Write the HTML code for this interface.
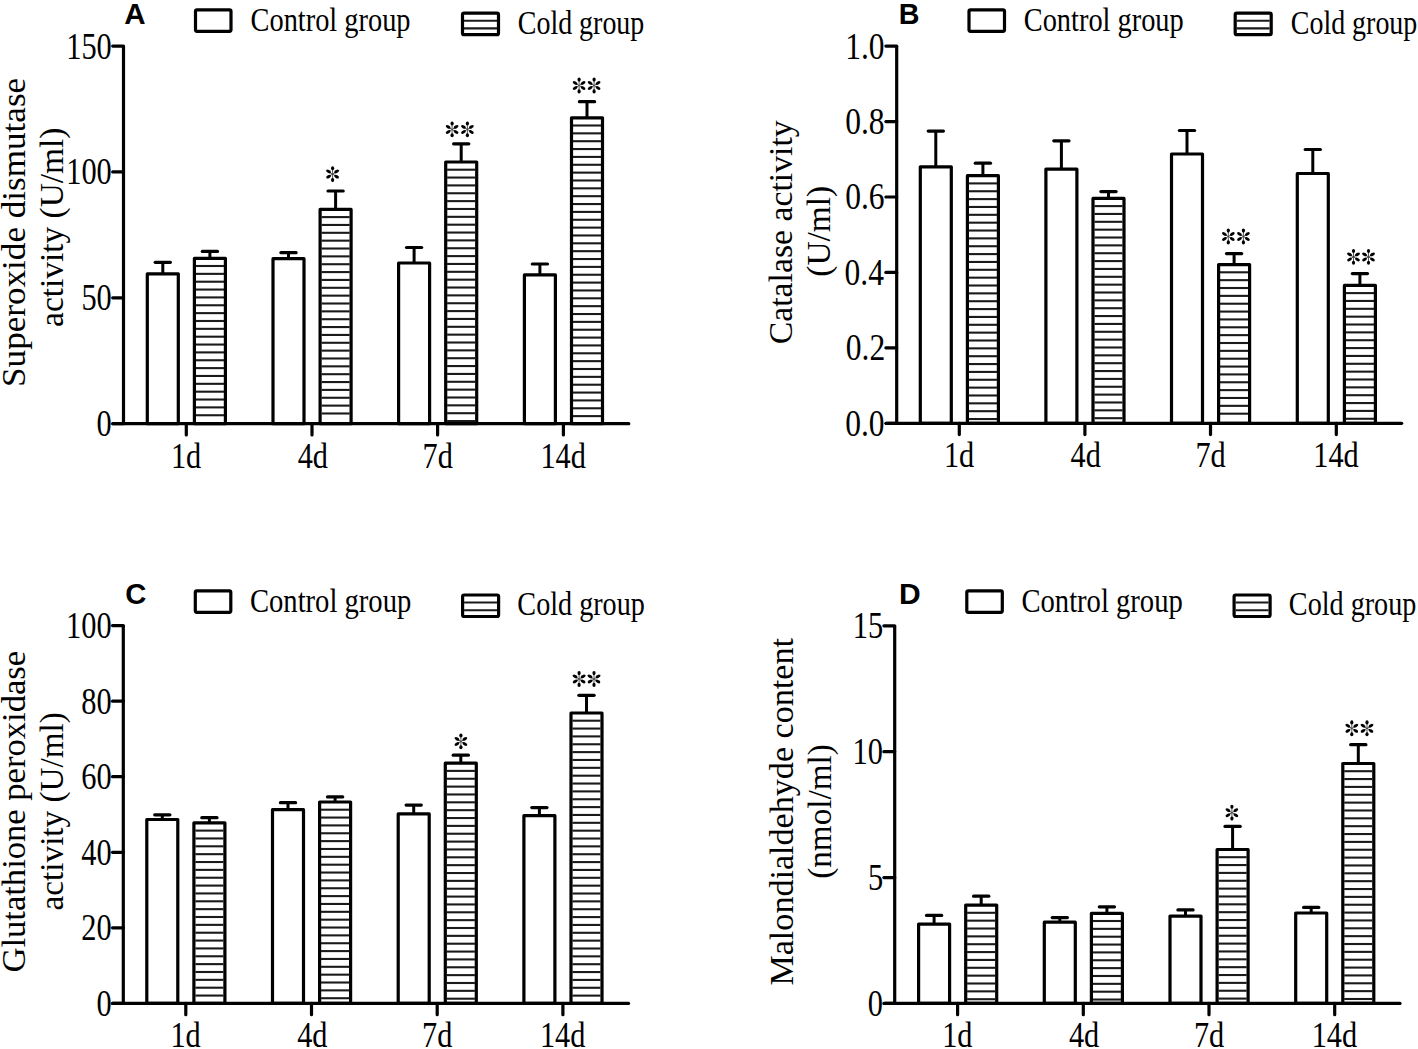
<!DOCTYPE html>
<html><head><meta charset="utf-8"><style>
html,body{margin:0;padding:0;background:#fff;}
body{width:1418px;height:1049px;overflow:hidden;}
svg{display:block;}
text{fill:#000;}
</style></head><body>
<svg width="1418" height="1049" viewBox="0 0 1418 1049">
<rect width="1418" height="1049" fill="#fff"/>
<rect x="147.30" y="273.80" width="31.0" height="149.90" fill="#fff" stroke="#000" stroke-width="3.2" stroke-linejoin="round"/>
<line x1="162.80" y1="273.80" x2="162.80" y2="262.30" stroke="#000" stroke-width="3.0" stroke-linecap="butt"/>
<line x1="155.20" y1="262.30" x2="170.40" y2="262.30" stroke="#000" stroke-width="3.2" stroke-linecap="round"/>
<rect x="194.40" y="258.30" width="31.0" height="165.40" fill="#fff" stroke="#000" stroke-width="3.2" stroke-linejoin="round"/>
<line x1="195.80" y1="266.00" x2="224.00" y2="266.00" stroke="#1a1a1a" stroke-width="2.1" stroke-linecap="butt"/>
<line x1="195.80" y1="273.86" x2="224.00" y2="273.86" stroke="#1a1a1a" stroke-width="2.1" stroke-linecap="butt"/>
<line x1="195.80" y1="281.71" x2="224.00" y2="281.71" stroke="#1a1a1a" stroke-width="2.1" stroke-linecap="butt"/>
<line x1="195.80" y1="289.56" x2="224.00" y2="289.56" stroke="#1a1a1a" stroke-width="2.1" stroke-linecap="butt"/>
<line x1="195.80" y1="297.42" x2="224.00" y2="297.42" stroke="#1a1a1a" stroke-width="2.1" stroke-linecap="butt"/>
<line x1="195.80" y1="305.27" x2="224.00" y2="305.27" stroke="#1a1a1a" stroke-width="2.1" stroke-linecap="butt"/>
<line x1="195.80" y1="313.13" x2="224.00" y2="313.13" stroke="#1a1a1a" stroke-width="2.1" stroke-linecap="butt"/>
<line x1="195.80" y1="320.99" x2="224.00" y2="320.99" stroke="#1a1a1a" stroke-width="2.1" stroke-linecap="butt"/>
<line x1="195.80" y1="328.84" x2="224.00" y2="328.84" stroke="#1a1a1a" stroke-width="2.1" stroke-linecap="butt"/>
<line x1="195.80" y1="336.69" x2="224.00" y2="336.69" stroke="#1a1a1a" stroke-width="2.1" stroke-linecap="butt"/>
<line x1="195.80" y1="344.55" x2="224.00" y2="344.55" stroke="#1a1a1a" stroke-width="2.1" stroke-linecap="butt"/>
<line x1="195.80" y1="352.40" x2="224.00" y2="352.40" stroke="#1a1a1a" stroke-width="2.1" stroke-linecap="butt"/>
<line x1="195.80" y1="360.26" x2="224.00" y2="360.26" stroke="#1a1a1a" stroke-width="2.1" stroke-linecap="butt"/>
<line x1="195.80" y1="368.12" x2="224.00" y2="368.12" stroke="#1a1a1a" stroke-width="2.1" stroke-linecap="butt"/>
<line x1="195.80" y1="375.97" x2="224.00" y2="375.97" stroke="#1a1a1a" stroke-width="2.1" stroke-linecap="butt"/>
<line x1="195.80" y1="383.82" x2="224.00" y2="383.82" stroke="#1a1a1a" stroke-width="2.1" stroke-linecap="butt"/>
<line x1="195.80" y1="391.68" x2="224.00" y2="391.68" stroke="#1a1a1a" stroke-width="2.1" stroke-linecap="butt"/>
<line x1="195.80" y1="399.53" x2="224.00" y2="399.53" stroke="#1a1a1a" stroke-width="2.1" stroke-linecap="butt"/>
<line x1="195.80" y1="407.39" x2="224.00" y2="407.39" stroke="#1a1a1a" stroke-width="2.1" stroke-linecap="butt"/>
<line x1="195.80" y1="415.25" x2="224.00" y2="415.25" stroke="#1a1a1a" stroke-width="2.1" stroke-linecap="butt"/>
<line x1="209.90" y1="258.30" x2="209.90" y2="251.40" stroke="#000" stroke-width="3.0" stroke-linecap="butt"/>
<line x1="202.30" y1="251.40" x2="217.50" y2="251.40" stroke="#000" stroke-width="3.2" stroke-linecap="round"/>
<rect x="273.00" y="258.70" width="31.0" height="165.00" fill="#fff" stroke="#000" stroke-width="3.2" stroke-linejoin="round"/>
<line x1="288.50" y1="258.70" x2="288.50" y2="252.70" stroke="#000" stroke-width="3.0" stroke-linecap="butt"/>
<line x1="280.90" y1="252.70" x2="296.10" y2="252.70" stroke="#000" stroke-width="3.2" stroke-linecap="round"/>
<rect x="320.10" y="209.40" width="31.0" height="214.30" fill="#fff" stroke="#000" stroke-width="3.2" stroke-linejoin="round"/>
<line x1="321.50" y1="217.10" x2="349.70" y2="217.10" stroke="#1a1a1a" stroke-width="2.1" stroke-linecap="butt"/>
<line x1="321.50" y1="224.95" x2="349.70" y2="224.95" stroke="#1a1a1a" stroke-width="2.1" stroke-linecap="butt"/>
<line x1="321.50" y1="232.81" x2="349.70" y2="232.81" stroke="#1a1a1a" stroke-width="2.1" stroke-linecap="butt"/>
<line x1="321.50" y1="240.66" x2="349.70" y2="240.66" stroke="#1a1a1a" stroke-width="2.1" stroke-linecap="butt"/>
<line x1="321.50" y1="248.52" x2="349.70" y2="248.52" stroke="#1a1a1a" stroke-width="2.1" stroke-linecap="butt"/>
<line x1="321.50" y1="256.38" x2="349.70" y2="256.38" stroke="#1a1a1a" stroke-width="2.1" stroke-linecap="butt"/>
<line x1="321.50" y1="264.23" x2="349.70" y2="264.23" stroke="#1a1a1a" stroke-width="2.1" stroke-linecap="butt"/>
<line x1="321.50" y1="272.08" x2="349.70" y2="272.08" stroke="#1a1a1a" stroke-width="2.1" stroke-linecap="butt"/>
<line x1="321.50" y1="279.94" x2="349.70" y2="279.94" stroke="#1a1a1a" stroke-width="2.1" stroke-linecap="butt"/>
<line x1="321.50" y1="287.80" x2="349.70" y2="287.80" stroke="#1a1a1a" stroke-width="2.1" stroke-linecap="butt"/>
<line x1="321.50" y1="295.65" x2="349.70" y2="295.65" stroke="#1a1a1a" stroke-width="2.1" stroke-linecap="butt"/>
<line x1="321.50" y1="303.50" x2="349.70" y2="303.50" stroke="#1a1a1a" stroke-width="2.1" stroke-linecap="butt"/>
<line x1="321.50" y1="311.36" x2="349.70" y2="311.36" stroke="#1a1a1a" stroke-width="2.1" stroke-linecap="butt"/>
<line x1="321.50" y1="319.22" x2="349.70" y2="319.22" stroke="#1a1a1a" stroke-width="2.1" stroke-linecap="butt"/>
<line x1="321.50" y1="327.07" x2="349.70" y2="327.07" stroke="#1a1a1a" stroke-width="2.1" stroke-linecap="butt"/>
<line x1="321.50" y1="334.93" x2="349.70" y2="334.93" stroke="#1a1a1a" stroke-width="2.1" stroke-linecap="butt"/>
<line x1="321.50" y1="342.78" x2="349.70" y2="342.78" stroke="#1a1a1a" stroke-width="2.1" stroke-linecap="butt"/>
<line x1="321.50" y1="350.63" x2="349.70" y2="350.63" stroke="#1a1a1a" stroke-width="2.1" stroke-linecap="butt"/>
<line x1="321.50" y1="358.49" x2="349.70" y2="358.49" stroke="#1a1a1a" stroke-width="2.1" stroke-linecap="butt"/>
<line x1="321.50" y1="366.35" x2="349.70" y2="366.35" stroke="#1a1a1a" stroke-width="2.1" stroke-linecap="butt"/>
<line x1="321.50" y1="374.20" x2="349.70" y2="374.20" stroke="#1a1a1a" stroke-width="2.1" stroke-linecap="butt"/>
<line x1="321.50" y1="382.06" x2="349.70" y2="382.06" stroke="#1a1a1a" stroke-width="2.1" stroke-linecap="butt"/>
<line x1="321.50" y1="389.91" x2="349.70" y2="389.91" stroke="#1a1a1a" stroke-width="2.1" stroke-linecap="butt"/>
<line x1="321.50" y1="397.76" x2="349.70" y2="397.76" stroke="#1a1a1a" stroke-width="2.1" stroke-linecap="butt"/>
<line x1="321.50" y1="405.62" x2="349.70" y2="405.62" stroke="#1a1a1a" stroke-width="2.1" stroke-linecap="butt"/>
<line x1="321.50" y1="413.48" x2="349.70" y2="413.48" stroke="#1a1a1a" stroke-width="2.1" stroke-linecap="butt"/>
<line x1="335.60" y1="209.40" x2="335.60" y2="191.00" stroke="#000" stroke-width="3.0" stroke-linecap="butt"/>
<line x1="328.00" y1="191.00" x2="343.20" y2="191.00" stroke="#000" stroke-width="3.2" stroke-linecap="round"/>
<rect x="398.60" y="263.00" width="31.0" height="160.70" fill="#fff" stroke="#000" stroke-width="3.2" stroke-linejoin="round"/>
<line x1="414.10" y1="263.00" x2="414.10" y2="247.50" stroke="#000" stroke-width="3.0" stroke-linecap="butt"/>
<line x1="406.50" y1="247.50" x2="421.70" y2="247.50" stroke="#000" stroke-width="3.2" stroke-linecap="round"/>
<rect x="445.70" y="162.00" width="31.0" height="261.70" fill="#fff" stroke="#000" stroke-width="3.2" stroke-linejoin="round"/>
<line x1="447.10" y1="169.70" x2="475.30" y2="169.70" stroke="#1a1a1a" stroke-width="2.1" stroke-linecap="butt"/>
<line x1="447.10" y1="177.55" x2="475.30" y2="177.55" stroke="#1a1a1a" stroke-width="2.1" stroke-linecap="butt"/>
<line x1="447.10" y1="185.41" x2="475.30" y2="185.41" stroke="#1a1a1a" stroke-width="2.1" stroke-linecap="butt"/>
<line x1="447.10" y1="193.26" x2="475.30" y2="193.26" stroke="#1a1a1a" stroke-width="2.1" stroke-linecap="butt"/>
<line x1="447.10" y1="201.12" x2="475.30" y2="201.12" stroke="#1a1a1a" stroke-width="2.1" stroke-linecap="butt"/>
<line x1="447.10" y1="208.97" x2="475.30" y2="208.97" stroke="#1a1a1a" stroke-width="2.1" stroke-linecap="butt"/>
<line x1="447.10" y1="216.83" x2="475.30" y2="216.83" stroke="#1a1a1a" stroke-width="2.1" stroke-linecap="butt"/>
<line x1="447.10" y1="224.69" x2="475.30" y2="224.69" stroke="#1a1a1a" stroke-width="2.1" stroke-linecap="butt"/>
<line x1="447.10" y1="232.54" x2="475.30" y2="232.54" stroke="#1a1a1a" stroke-width="2.1" stroke-linecap="butt"/>
<line x1="447.10" y1="240.39" x2="475.30" y2="240.39" stroke="#1a1a1a" stroke-width="2.1" stroke-linecap="butt"/>
<line x1="447.10" y1="248.25" x2="475.30" y2="248.25" stroke="#1a1a1a" stroke-width="2.1" stroke-linecap="butt"/>
<line x1="447.10" y1="256.11" x2="475.30" y2="256.11" stroke="#1a1a1a" stroke-width="2.1" stroke-linecap="butt"/>
<line x1="447.10" y1="263.96" x2="475.30" y2="263.96" stroke="#1a1a1a" stroke-width="2.1" stroke-linecap="butt"/>
<line x1="447.10" y1="271.81" x2="475.30" y2="271.81" stroke="#1a1a1a" stroke-width="2.1" stroke-linecap="butt"/>
<line x1="447.10" y1="279.67" x2="475.30" y2="279.67" stroke="#1a1a1a" stroke-width="2.1" stroke-linecap="butt"/>
<line x1="447.10" y1="287.52" x2="475.30" y2="287.52" stroke="#1a1a1a" stroke-width="2.1" stroke-linecap="butt"/>
<line x1="447.10" y1="295.38" x2="475.30" y2="295.38" stroke="#1a1a1a" stroke-width="2.1" stroke-linecap="butt"/>
<line x1="447.10" y1="303.24" x2="475.30" y2="303.24" stroke="#1a1a1a" stroke-width="2.1" stroke-linecap="butt"/>
<line x1="447.10" y1="311.09" x2="475.30" y2="311.09" stroke="#1a1a1a" stroke-width="2.1" stroke-linecap="butt"/>
<line x1="447.10" y1="318.94" x2="475.30" y2="318.94" stroke="#1a1a1a" stroke-width="2.1" stroke-linecap="butt"/>
<line x1="447.10" y1="326.80" x2="475.30" y2="326.80" stroke="#1a1a1a" stroke-width="2.1" stroke-linecap="butt"/>
<line x1="447.10" y1="334.65" x2="475.30" y2="334.65" stroke="#1a1a1a" stroke-width="2.1" stroke-linecap="butt"/>
<line x1="447.10" y1="342.51" x2="475.30" y2="342.51" stroke="#1a1a1a" stroke-width="2.1" stroke-linecap="butt"/>
<line x1="447.10" y1="350.37" x2="475.30" y2="350.37" stroke="#1a1a1a" stroke-width="2.1" stroke-linecap="butt"/>
<line x1="447.10" y1="358.22" x2="475.30" y2="358.22" stroke="#1a1a1a" stroke-width="2.1" stroke-linecap="butt"/>
<line x1="447.10" y1="366.07" x2="475.30" y2="366.07" stroke="#1a1a1a" stroke-width="2.1" stroke-linecap="butt"/>
<line x1="447.10" y1="373.93" x2="475.30" y2="373.93" stroke="#1a1a1a" stroke-width="2.1" stroke-linecap="butt"/>
<line x1="447.10" y1="381.78" x2="475.30" y2="381.78" stroke="#1a1a1a" stroke-width="2.1" stroke-linecap="butt"/>
<line x1="447.10" y1="389.64" x2="475.30" y2="389.64" stroke="#1a1a1a" stroke-width="2.1" stroke-linecap="butt"/>
<line x1="447.10" y1="397.50" x2="475.30" y2="397.50" stroke="#1a1a1a" stroke-width="2.1" stroke-linecap="butt"/>
<line x1="447.10" y1="405.35" x2="475.30" y2="405.35" stroke="#1a1a1a" stroke-width="2.1" stroke-linecap="butt"/>
<line x1="447.10" y1="413.21" x2="475.30" y2="413.21" stroke="#1a1a1a" stroke-width="2.1" stroke-linecap="butt"/>
<line x1="447.10" y1="421.06" x2="475.30" y2="421.06" stroke="#1a1a1a" stroke-width="2.1" stroke-linecap="butt"/>
<line x1="461.20" y1="162.00" x2="461.20" y2="143.80" stroke="#000" stroke-width="3.0" stroke-linecap="butt"/>
<line x1="453.60" y1="143.80" x2="468.80" y2="143.80" stroke="#000" stroke-width="3.2" stroke-linecap="round"/>
<rect x="524.40" y="274.90" width="31.0" height="148.80" fill="#fff" stroke="#000" stroke-width="3.2" stroke-linejoin="round"/>
<line x1="539.90" y1="274.90" x2="539.90" y2="264.00" stroke="#000" stroke-width="3.0" stroke-linecap="butt"/>
<line x1="532.30" y1="264.00" x2="547.50" y2="264.00" stroke="#000" stroke-width="3.2" stroke-linecap="round"/>
<rect x="571.50" y="117.80" width="31.0" height="305.90" fill="#fff" stroke="#000" stroke-width="3.2" stroke-linejoin="round"/>
<line x1="572.90" y1="125.50" x2="601.10" y2="125.50" stroke="#1a1a1a" stroke-width="2.1" stroke-linecap="butt"/>
<line x1="572.90" y1="133.35" x2="601.10" y2="133.35" stroke="#1a1a1a" stroke-width="2.1" stroke-linecap="butt"/>
<line x1="572.90" y1="141.21" x2="601.10" y2="141.21" stroke="#1a1a1a" stroke-width="2.1" stroke-linecap="butt"/>
<line x1="572.90" y1="149.06" x2="601.10" y2="149.06" stroke="#1a1a1a" stroke-width="2.1" stroke-linecap="butt"/>
<line x1="572.90" y1="156.92" x2="601.10" y2="156.92" stroke="#1a1a1a" stroke-width="2.1" stroke-linecap="butt"/>
<line x1="572.90" y1="164.78" x2="601.10" y2="164.78" stroke="#1a1a1a" stroke-width="2.1" stroke-linecap="butt"/>
<line x1="572.90" y1="172.63" x2="601.10" y2="172.63" stroke="#1a1a1a" stroke-width="2.1" stroke-linecap="butt"/>
<line x1="572.90" y1="180.49" x2="601.10" y2="180.49" stroke="#1a1a1a" stroke-width="2.1" stroke-linecap="butt"/>
<line x1="572.90" y1="188.34" x2="601.10" y2="188.34" stroke="#1a1a1a" stroke-width="2.1" stroke-linecap="butt"/>
<line x1="572.90" y1="196.19" x2="601.10" y2="196.19" stroke="#1a1a1a" stroke-width="2.1" stroke-linecap="butt"/>
<line x1="572.90" y1="204.05" x2="601.10" y2="204.05" stroke="#1a1a1a" stroke-width="2.1" stroke-linecap="butt"/>
<line x1="572.90" y1="211.91" x2="601.10" y2="211.91" stroke="#1a1a1a" stroke-width="2.1" stroke-linecap="butt"/>
<line x1="572.90" y1="219.76" x2="601.10" y2="219.76" stroke="#1a1a1a" stroke-width="2.1" stroke-linecap="butt"/>
<line x1="572.90" y1="227.62" x2="601.10" y2="227.62" stroke="#1a1a1a" stroke-width="2.1" stroke-linecap="butt"/>
<line x1="572.90" y1="235.47" x2="601.10" y2="235.47" stroke="#1a1a1a" stroke-width="2.1" stroke-linecap="butt"/>
<line x1="572.90" y1="243.32" x2="601.10" y2="243.32" stroke="#1a1a1a" stroke-width="2.1" stroke-linecap="butt"/>
<line x1="572.90" y1="251.18" x2="601.10" y2="251.18" stroke="#1a1a1a" stroke-width="2.1" stroke-linecap="butt"/>
<line x1="572.90" y1="259.03" x2="601.10" y2="259.03" stroke="#1a1a1a" stroke-width="2.1" stroke-linecap="butt"/>
<line x1="572.90" y1="266.89" x2="601.10" y2="266.89" stroke="#1a1a1a" stroke-width="2.1" stroke-linecap="butt"/>
<line x1="572.90" y1="274.75" x2="601.10" y2="274.75" stroke="#1a1a1a" stroke-width="2.1" stroke-linecap="butt"/>
<line x1="572.90" y1="282.60" x2="601.10" y2="282.60" stroke="#1a1a1a" stroke-width="2.1" stroke-linecap="butt"/>
<line x1="572.90" y1="290.46" x2="601.10" y2="290.46" stroke="#1a1a1a" stroke-width="2.1" stroke-linecap="butt"/>
<line x1="572.90" y1="298.31" x2="601.10" y2="298.31" stroke="#1a1a1a" stroke-width="2.1" stroke-linecap="butt"/>
<line x1="572.90" y1="306.17" x2="601.10" y2="306.17" stroke="#1a1a1a" stroke-width="2.1" stroke-linecap="butt"/>
<line x1="572.90" y1="314.02" x2="601.10" y2="314.02" stroke="#1a1a1a" stroke-width="2.1" stroke-linecap="butt"/>
<line x1="572.90" y1="321.88" x2="601.10" y2="321.88" stroke="#1a1a1a" stroke-width="2.1" stroke-linecap="butt"/>
<line x1="572.90" y1="329.73" x2="601.10" y2="329.73" stroke="#1a1a1a" stroke-width="2.1" stroke-linecap="butt"/>
<line x1="572.90" y1="337.59" x2="601.10" y2="337.59" stroke="#1a1a1a" stroke-width="2.1" stroke-linecap="butt"/>
<line x1="572.90" y1="345.44" x2="601.10" y2="345.44" stroke="#1a1a1a" stroke-width="2.1" stroke-linecap="butt"/>
<line x1="572.90" y1="353.30" x2="601.10" y2="353.30" stroke="#1a1a1a" stroke-width="2.1" stroke-linecap="butt"/>
<line x1="572.90" y1="361.15" x2="601.10" y2="361.15" stroke="#1a1a1a" stroke-width="2.1" stroke-linecap="butt"/>
<line x1="572.90" y1="369.00" x2="601.10" y2="369.00" stroke="#1a1a1a" stroke-width="2.1" stroke-linecap="butt"/>
<line x1="572.90" y1="376.86" x2="601.10" y2="376.86" stroke="#1a1a1a" stroke-width="2.1" stroke-linecap="butt"/>
<line x1="572.90" y1="384.72" x2="601.10" y2="384.72" stroke="#1a1a1a" stroke-width="2.1" stroke-linecap="butt"/>
<line x1="572.90" y1="392.57" x2="601.10" y2="392.57" stroke="#1a1a1a" stroke-width="2.1" stroke-linecap="butt"/>
<line x1="572.90" y1="400.43" x2="601.10" y2="400.43" stroke="#1a1a1a" stroke-width="2.1" stroke-linecap="butt"/>
<line x1="572.90" y1="408.28" x2="601.10" y2="408.28" stroke="#1a1a1a" stroke-width="2.1" stroke-linecap="butt"/>
<line x1="572.90" y1="416.13" x2="601.10" y2="416.13" stroke="#1a1a1a" stroke-width="2.1" stroke-linecap="butt"/>
<line x1="587.00" y1="117.80" x2="587.00" y2="101.70" stroke="#000" stroke-width="3.0" stroke-linecap="butt"/>
<line x1="579.40" y1="101.70" x2="594.60" y2="101.70" stroke="#000" stroke-width="3.2" stroke-linecap="round"/>
<line x1="123.50" y1="46.10" x2="123.50" y2="423.70" stroke="#000" stroke-width="3.2" stroke-linecap="butt"/>
<line x1="113.00" y1="423.70" x2="628.80" y2="423.70" stroke="#000" stroke-width="3.2" stroke-linecap="round"/>
<line x1="112.70" y1="46.10" x2="123.50" y2="46.10" stroke="#000" stroke-width="3.2" stroke-linecap="round"/>
<line x1="112.70" y1="171.97" x2="123.50" y2="171.97" stroke="#000" stroke-width="3.2" stroke-linecap="round"/>
<line x1="112.70" y1="297.83" x2="123.50" y2="297.83" stroke="#000" stroke-width="3.2" stroke-linecap="round"/>
<line x1="112.70" y1="423.70" x2="123.50" y2="423.70" stroke="#000" stroke-width="3.2" stroke-linecap="round"/>
<line x1="186.30" y1="423.70" x2="186.30" y2="435.00" stroke="#000" stroke-width="3.2" stroke-linecap="round"/>
<line x1="312.00" y1="423.70" x2="312.00" y2="435.00" stroke="#000" stroke-width="3.2" stroke-linecap="round"/>
<line x1="437.60" y1="423.70" x2="437.60" y2="435.00" stroke="#000" stroke-width="3.2" stroke-linecap="round"/>
<line x1="563.40" y1="423.70" x2="563.40" y2="435.00" stroke="#000" stroke-width="3.2" stroke-linecap="round"/>
<g transform="translate(332.60,174.10)" fill="#000"><path d="M0,-5.00V5.00M-3.90,-2.30L3.90,2.30M-3.90,2.30L3.90,-2.30" stroke="#444" stroke-width="0.90" fill="none"/><ellipse cx="0" cy="-5.90" rx="1.60" ry="2.05"/><ellipse cx="0" cy="5.90" rx="1.60" ry="2.05"/><ellipse transform="translate(-3.95,-2.55) rotate(30)" rx="2.60" ry="1.50"/><ellipse transform="translate(-3.95,2.55) rotate(-30)" rx="2.60" ry="1.50"/><ellipse transform="translate(3.95,-2.55) rotate(-30)" rx="2.60" ry="1.50"/><ellipse transform="translate(3.95,2.55) rotate(30)" rx="2.60" ry="1.50"/></g>
<g transform="translate(452.10,129.40)" fill="#000"><path d="M0,-5.00V5.00M-3.90,-2.30L3.90,2.30M-3.90,2.30L3.90,-2.30" stroke="#444" stroke-width="0.90" fill="none"/><ellipse cx="0" cy="-5.90" rx="1.60" ry="2.05"/><ellipse cx="0" cy="5.90" rx="1.60" ry="2.05"/><ellipse transform="translate(-3.95,-2.55) rotate(30)" rx="2.60" ry="1.50"/><ellipse transform="translate(-3.95,2.55) rotate(-30)" rx="2.60" ry="1.50"/><ellipse transform="translate(3.95,-2.55) rotate(-30)" rx="2.60" ry="1.50"/><ellipse transform="translate(3.95,2.55) rotate(30)" rx="2.60" ry="1.50"/></g>
<g transform="translate(467.40,129.40)" fill="#000"><path d="M0,-5.00V5.00M-3.90,-2.30L3.90,2.30M-3.90,2.30L3.90,-2.30" stroke="#444" stroke-width="0.90" fill="none"/><ellipse cx="0" cy="-5.90" rx="1.60" ry="2.05"/><ellipse cx="0" cy="5.90" rx="1.60" ry="2.05"/><ellipse transform="translate(-3.95,-2.55) rotate(30)" rx="2.60" ry="1.50"/><ellipse transform="translate(-3.95,2.55) rotate(-30)" rx="2.60" ry="1.50"/><ellipse transform="translate(3.95,-2.55) rotate(-30)" rx="2.60" ry="1.50"/><ellipse transform="translate(3.95,2.55) rotate(30)" rx="2.60" ry="1.50"/></g>
<g transform="translate(579.10,85.50)" fill="#000"><path d="M0,-5.00V5.00M-3.90,-2.30L3.90,2.30M-3.90,2.30L3.90,-2.30" stroke="#444" stroke-width="0.90" fill="none"/><ellipse cx="0" cy="-5.90" rx="1.60" ry="2.05"/><ellipse cx="0" cy="5.90" rx="1.60" ry="2.05"/><ellipse transform="translate(-3.95,-2.55) rotate(30)" rx="2.60" ry="1.50"/><ellipse transform="translate(-3.95,2.55) rotate(-30)" rx="2.60" ry="1.50"/><ellipse transform="translate(3.95,-2.55) rotate(-30)" rx="2.60" ry="1.50"/><ellipse transform="translate(3.95,2.55) rotate(30)" rx="2.60" ry="1.50"/></g>
<g transform="translate(594.10,85.50)" fill="#000"><path d="M0,-5.00V5.00M-3.90,-2.30L3.90,2.30M-3.90,2.30L3.90,-2.30" stroke="#444" stroke-width="0.90" fill="none"/><ellipse cx="0" cy="-5.90" rx="1.60" ry="2.05"/><ellipse cx="0" cy="5.90" rx="1.60" ry="2.05"/><ellipse transform="translate(-3.95,-2.55) rotate(30)" rx="2.60" ry="1.50"/><ellipse transform="translate(-3.95,2.55) rotate(-30)" rx="2.60" ry="1.50"/><ellipse transform="translate(3.95,-2.55) rotate(-30)" rx="2.60" ry="1.50"/><ellipse transform="translate(3.95,2.55) rotate(30)" rx="2.60" ry="1.50"/></g>
<rect x="195.50" y="9.80" width="35.5" height="21.5" rx="1.5" fill="#fff" stroke="#000" stroke-width="3.2"/>
<rect x="462.50" y="13.20" width="36.0" height="21.5" rx="1.5" fill="#fff" stroke="#000" stroke-width="3.2"/>
<line x1="464.00" y1="20.70" x2="497.00" y2="20.70" stroke="#1a1a1a" stroke-width="2.1" stroke-linecap="butt"/>
<line x1="464.00" y1="28.40" x2="497.00" y2="28.40" stroke="#1a1a1a" stroke-width="2.1" stroke-linecap="butt"/>
<rect x="920.30" y="166.80" width="31.0" height="256.50" fill="#fff" stroke="#000" stroke-width="3.2" stroke-linejoin="round"/>
<line x1="935.80" y1="166.80" x2="935.80" y2="131.10" stroke="#000" stroke-width="3.0" stroke-linecap="butt"/>
<line x1="928.20" y1="131.10" x2="943.40" y2="131.10" stroke="#000" stroke-width="3.2" stroke-linecap="round"/>
<rect x="967.40" y="175.70" width="31.0" height="247.60" fill="#fff" stroke="#000" stroke-width="3.2" stroke-linejoin="round"/>
<line x1="968.80" y1="183.40" x2="997.00" y2="183.40" stroke="#1a1a1a" stroke-width="2.1" stroke-linecap="butt"/>
<line x1="968.80" y1="191.25" x2="997.00" y2="191.25" stroke="#1a1a1a" stroke-width="2.1" stroke-linecap="butt"/>
<line x1="968.80" y1="199.11" x2="997.00" y2="199.11" stroke="#1a1a1a" stroke-width="2.1" stroke-linecap="butt"/>
<line x1="968.80" y1="206.96" x2="997.00" y2="206.96" stroke="#1a1a1a" stroke-width="2.1" stroke-linecap="butt"/>
<line x1="968.80" y1="214.82" x2="997.00" y2="214.82" stroke="#1a1a1a" stroke-width="2.1" stroke-linecap="butt"/>
<line x1="968.80" y1="222.67" x2="997.00" y2="222.67" stroke="#1a1a1a" stroke-width="2.1" stroke-linecap="butt"/>
<line x1="968.80" y1="230.53" x2="997.00" y2="230.53" stroke="#1a1a1a" stroke-width="2.1" stroke-linecap="butt"/>
<line x1="968.80" y1="238.38" x2="997.00" y2="238.38" stroke="#1a1a1a" stroke-width="2.1" stroke-linecap="butt"/>
<line x1="968.80" y1="246.24" x2="997.00" y2="246.24" stroke="#1a1a1a" stroke-width="2.1" stroke-linecap="butt"/>
<line x1="968.80" y1="254.09" x2="997.00" y2="254.09" stroke="#1a1a1a" stroke-width="2.1" stroke-linecap="butt"/>
<line x1="968.80" y1="261.95" x2="997.00" y2="261.95" stroke="#1a1a1a" stroke-width="2.1" stroke-linecap="butt"/>
<line x1="968.80" y1="269.80" x2="997.00" y2="269.80" stroke="#1a1a1a" stroke-width="2.1" stroke-linecap="butt"/>
<line x1="968.80" y1="277.66" x2="997.00" y2="277.66" stroke="#1a1a1a" stroke-width="2.1" stroke-linecap="butt"/>
<line x1="968.80" y1="285.51" x2="997.00" y2="285.51" stroke="#1a1a1a" stroke-width="2.1" stroke-linecap="butt"/>
<line x1="968.80" y1="293.37" x2="997.00" y2="293.37" stroke="#1a1a1a" stroke-width="2.1" stroke-linecap="butt"/>
<line x1="968.80" y1="301.22" x2="997.00" y2="301.22" stroke="#1a1a1a" stroke-width="2.1" stroke-linecap="butt"/>
<line x1="968.80" y1="309.08" x2="997.00" y2="309.08" stroke="#1a1a1a" stroke-width="2.1" stroke-linecap="butt"/>
<line x1="968.80" y1="316.93" x2="997.00" y2="316.93" stroke="#1a1a1a" stroke-width="2.1" stroke-linecap="butt"/>
<line x1="968.80" y1="324.79" x2="997.00" y2="324.79" stroke="#1a1a1a" stroke-width="2.1" stroke-linecap="butt"/>
<line x1="968.80" y1="332.64" x2="997.00" y2="332.64" stroke="#1a1a1a" stroke-width="2.1" stroke-linecap="butt"/>
<line x1="968.80" y1="340.50" x2="997.00" y2="340.50" stroke="#1a1a1a" stroke-width="2.1" stroke-linecap="butt"/>
<line x1="968.80" y1="348.36" x2="997.00" y2="348.36" stroke="#1a1a1a" stroke-width="2.1" stroke-linecap="butt"/>
<line x1="968.80" y1="356.21" x2="997.00" y2="356.21" stroke="#1a1a1a" stroke-width="2.1" stroke-linecap="butt"/>
<line x1="968.80" y1="364.06" x2="997.00" y2="364.06" stroke="#1a1a1a" stroke-width="2.1" stroke-linecap="butt"/>
<line x1="968.80" y1="371.92" x2="997.00" y2="371.92" stroke="#1a1a1a" stroke-width="2.1" stroke-linecap="butt"/>
<line x1="968.80" y1="379.77" x2="997.00" y2="379.77" stroke="#1a1a1a" stroke-width="2.1" stroke-linecap="butt"/>
<line x1="968.80" y1="387.63" x2="997.00" y2="387.63" stroke="#1a1a1a" stroke-width="2.1" stroke-linecap="butt"/>
<line x1="968.80" y1="395.49" x2="997.00" y2="395.49" stroke="#1a1a1a" stroke-width="2.1" stroke-linecap="butt"/>
<line x1="968.80" y1="403.34" x2="997.00" y2="403.34" stroke="#1a1a1a" stroke-width="2.1" stroke-linecap="butt"/>
<line x1="968.80" y1="411.19" x2="997.00" y2="411.19" stroke="#1a1a1a" stroke-width="2.1" stroke-linecap="butt"/>
<line x1="968.80" y1="419.05" x2="997.00" y2="419.05" stroke="#1a1a1a" stroke-width="2.1" stroke-linecap="butt"/>
<line x1="982.90" y1="175.70" x2="982.90" y2="163.20" stroke="#000" stroke-width="3.0" stroke-linecap="butt"/>
<line x1="975.30" y1="163.20" x2="990.50" y2="163.20" stroke="#000" stroke-width="3.2" stroke-linecap="round"/>
<rect x="1045.90" y="169.20" width="31.0" height="254.10" fill="#fff" stroke="#000" stroke-width="3.2" stroke-linejoin="round"/>
<line x1="1061.40" y1="169.20" x2="1061.40" y2="140.80" stroke="#000" stroke-width="3.0" stroke-linecap="butt"/>
<line x1="1053.80" y1="140.80" x2="1069.00" y2="140.80" stroke="#000" stroke-width="3.2" stroke-linecap="round"/>
<rect x="1093.00" y="198.40" width="31.0" height="224.90" fill="#fff" stroke="#000" stroke-width="3.2" stroke-linejoin="round"/>
<line x1="1094.40" y1="206.10" x2="1122.60" y2="206.10" stroke="#1a1a1a" stroke-width="2.1" stroke-linecap="butt"/>
<line x1="1094.40" y1="213.95" x2="1122.60" y2="213.95" stroke="#1a1a1a" stroke-width="2.1" stroke-linecap="butt"/>
<line x1="1094.40" y1="221.81" x2="1122.60" y2="221.81" stroke="#1a1a1a" stroke-width="2.1" stroke-linecap="butt"/>
<line x1="1094.40" y1="229.66" x2="1122.60" y2="229.66" stroke="#1a1a1a" stroke-width="2.1" stroke-linecap="butt"/>
<line x1="1094.40" y1="237.52" x2="1122.60" y2="237.52" stroke="#1a1a1a" stroke-width="2.1" stroke-linecap="butt"/>
<line x1="1094.40" y1="245.38" x2="1122.60" y2="245.38" stroke="#1a1a1a" stroke-width="2.1" stroke-linecap="butt"/>
<line x1="1094.40" y1="253.23" x2="1122.60" y2="253.23" stroke="#1a1a1a" stroke-width="2.1" stroke-linecap="butt"/>
<line x1="1094.40" y1="261.08" x2="1122.60" y2="261.08" stroke="#1a1a1a" stroke-width="2.1" stroke-linecap="butt"/>
<line x1="1094.40" y1="268.94" x2="1122.60" y2="268.94" stroke="#1a1a1a" stroke-width="2.1" stroke-linecap="butt"/>
<line x1="1094.40" y1="276.80" x2="1122.60" y2="276.80" stroke="#1a1a1a" stroke-width="2.1" stroke-linecap="butt"/>
<line x1="1094.40" y1="284.65" x2="1122.60" y2="284.65" stroke="#1a1a1a" stroke-width="2.1" stroke-linecap="butt"/>
<line x1="1094.40" y1="292.50" x2="1122.60" y2="292.50" stroke="#1a1a1a" stroke-width="2.1" stroke-linecap="butt"/>
<line x1="1094.40" y1="300.36" x2="1122.60" y2="300.36" stroke="#1a1a1a" stroke-width="2.1" stroke-linecap="butt"/>
<line x1="1094.40" y1="308.22" x2="1122.60" y2="308.22" stroke="#1a1a1a" stroke-width="2.1" stroke-linecap="butt"/>
<line x1="1094.40" y1="316.07" x2="1122.60" y2="316.07" stroke="#1a1a1a" stroke-width="2.1" stroke-linecap="butt"/>
<line x1="1094.40" y1="323.93" x2="1122.60" y2="323.93" stroke="#1a1a1a" stroke-width="2.1" stroke-linecap="butt"/>
<line x1="1094.40" y1="331.78" x2="1122.60" y2="331.78" stroke="#1a1a1a" stroke-width="2.1" stroke-linecap="butt"/>
<line x1="1094.40" y1="339.63" x2="1122.60" y2="339.63" stroke="#1a1a1a" stroke-width="2.1" stroke-linecap="butt"/>
<line x1="1094.40" y1="347.49" x2="1122.60" y2="347.49" stroke="#1a1a1a" stroke-width="2.1" stroke-linecap="butt"/>
<line x1="1094.40" y1="355.35" x2="1122.60" y2="355.35" stroke="#1a1a1a" stroke-width="2.1" stroke-linecap="butt"/>
<line x1="1094.40" y1="363.20" x2="1122.60" y2="363.20" stroke="#1a1a1a" stroke-width="2.1" stroke-linecap="butt"/>
<line x1="1094.40" y1="371.06" x2="1122.60" y2="371.06" stroke="#1a1a1a" stroke-width="2.1" stroke-linecap="butt"/>
<line x1="1094.40" y1="378.91" x2="1122.60" y2="378.91" stroke="#1a1a1a" stroke-width="2.1" stroke-linecap="butt"/>
<line x1="1094.40" y1="386.76" x2="1122.60" y2="386.76" stroke="#1a1a1a" stroke-width="2.1" stroke-linecap="butt"/>
<line x1="1094.40" y1="394.62" x2="1122.60" y2="394.62" stroke="#1a1a1a" stroke-width="2.1" stroke-linecap="butt"/>
<line x1="1094.40" y1="402.48" x2="1122.60" y2="402.48" stroke="#1a1a1a" stroke-width="2.1" stroke-linecap="butt"/>
<line x1="1094.40" y1="410.33" x2="1122.60" y2="410.33" stroke="#1a1a1a" stroke-width="2.1" stroke-linecap="butt"/>
<line x1="1094.40" y1="418.19" x2="1122.60" y2="418.19" stroke="#1a1a1a" stroke-width="2.1" stroke-linecap="butt"/>
<line x1="1108.50" y1="198.40" x2="1108.50" y2="191.60" stroke="#000" stroke-width="3.0" stroke-linecap="butt"/>
<line x1="1100.90" y1="191.60" x2="1116.10" y2="191.60" stroke="#000" stroke-width="3.2" stroke-linecap="round"/>
<rect x="1171.50" y="154.00" width="31.0" height="269.30" fill="#fff" stroke="#000" stroke-width="3.2" stroke-linejoin="round"/>
<line x1="1187.00" y1="154.00" x2="1187.00" y2="130.50" stroke="#000" stroke-width="3.0" stroke-linecap="butt"/>
<line x1="1179.40" y1="130.50" x2="1194.60" y2="130.50" stroke="#000" stroke-width="3.2" stroke-linecap="round"/>
<rect x="1218.60" y="264.60" width="31.0" height="158.70" fill="#fff" stroke="#000" stroke-width="3.2" stroke-linejoin="round"/>
<line x1="1220.00" y1="272.30" x2="1248.20" y2="272.30" stroke="#1a1a1a" stroke-width="2.1" stroke-linecap="butt"/>
<line x1="1220.00" y1="280.16" x2="1248.20" y2="280.16" stroke="#1a1a1a" stroke-width="2.1" stroke-linecap="butt"/>
<line x1="1220.00" y1="288.01" x2="1248.20" y2="288.01" stroke="#1a1a1a" stroke-width="2.1" stroke-linecap="butt"/>
<line x1="1220.00" y1="295.87" x2="1248.20" y2="295.87" stroke="#1a1a1a" stroke-width="2.1" stroke-linecap="butt"/>
<line x1="1220.00" y1="303.72" x2="1248.20" y2="303.72" stroke="#1a1a1a" stroke-width="2.1" stroke-linecap="butt"/>
<line x1="1220.00" y1="311.58" x2="1248.20" y2="311.58" stroke="#1a1a1a" stroke-width="2.1" stroke-linecap="butt"/>
<line x1="1220.00" y1="319.43" x2="1248.20" y2="319.43" stroke="#1a1a1a" stroke-width="2.1" stroke-linecap="butt"/>
<line x1="1220.00" y1="327.29" x2="1248.20" y2="327.29" stroke="#1a1a1a" stroke-width="2.1" stroke-linecap="butt"/>
<line x1="1220.00" y1="335.14" x2="1248.20" y2="335.14" stroke="#1a1a1a" stroke-width="2.1" stroke-linecap="butt"/>
<line x1="1220.00" y1="343.00" x2="1248.20" y2="343.00" stroke="#1a1a1a" stroke-width="2.1" stroke-linecap="butt"/>
<line x1="1220.00" y1="350.85" x2="1248.20" y2="350.85" stroke="#1a1a1a" stroke-width="2.1" stroke-linecap="butt"/>
<line x1="1220.00" y1="358.71" x2="1248.20" y2="358.71" stroke="#1a1a1a" stroke-width="2.1" stroke-linecap="butt"/>
<line x1="1220.00" y1="366.56" x2="1248.20" y2="366.56" stroke="#1a1a1a" stroke-width="2.1" stroke-linecap="butt"/>
<line x1="1220.00" y1="374.42" x2="1248.20" y2="374.42" stroke="#1a1a1a" stroke-width="2.1" stroke-linecap="butt"/>
<line x1="1220.00" y1="382.27" x2="1248.20" y2="382.27" stroke="#1a1a1a" stroke-width="2.1" stroke-linecap="butt"/>
<line x1="1220.00" y1="390.12" x2="1248.20" y2="390.12" stroke="#1a1a1a" stroke-width="2.1" stroke-linecap="butt"/>
<line x1="1220.00" y1="397.98" x2="1248.20" y2="397.98" stroke="#1a1a1a" stroke-width="2.1" stroke-linecap="butt"/>
<line x1="1220.00" y1="405.84" x2="1248.20" y2="405.84" stroke="#1a1a1a" stroke-width="2.1" stroke-linecap="butt"/>
<line x1="1220.00" y1="413.69" x2="1248.20" y2="413.69" stroke="#1a1a1a" stroke-width="2.1" stroke-linecap="butt"/>
<line x1="1234.10" y1="264.60" x2="1234.10" y2="253.60" stroke="#000" stroke-width="3.0" stroke-linecap="butt"/>
<line x1="1226.50" y1="253.60" x2="1241.70" y2="253.60" stroke="#000" stroke-width="3.2" stroke-linecap="round"/>
<rect x="1297.30" y="173.50" width="31.0" height="249.80" fill="#fff" stroke="#000" stroke-width="3.2" stroke-linejoin="round"/>
<line x1="1312.80" y1="173.50" x2="1312.80" y2="149.50" stroke="#000" stroke-width="3.0" stroke-linecap="butt"/>
<line x1="1305.20" y1="149.50" x2="1320.40" y2="149.50" stroke="#000" stroke-width="3.2" stroke-linecap="round"/>
<rect x="1344.40" y="285.40" width="31.0" height="137.90" fill="#fff" stroke="#000" stroke-width="3.2" stroke-linejoin="round"/>
<line x1="1345.80" y1="293.10" x2="1374.00" y2="293.10" stroke="#1a1a1a" stroke-width="2.1" stroke-linecap="butt"/>
<line x1="1345.80" y1="300.95" x2="1374.00" y2="300.95" stroke="#1a1a1a" stroke-width="2.1" stroke-linecap="butt"/>
<line x1="1345.80" y1="308.81" x2="1374.00" y2="308.81" stroke="#1a1a1a" stroke-width="2.1" stroke-linecap="butt"/>
<line x1="1345.80" y1="316.66" x2="1374.00" y2="316.66" stroke="#1a1a1a" stroke-width="2.1" stroke-linecap="butt"/>
<line x1="1345.80" y1="324.52" x2="1374.00" y2="324.52" stroke="#1a1a1a" stroke-width="2.1" stroke-linecap="butt"/>
<line x1="1345.80" y1="332.38" x2="1374.00" y2="332.38" stroke="#1a1a1a" stroke-width="2.1" stroke-linecap="butt"/>
<line x1="1345.80" y1="340.23" x2="1374.00" y2="340.23" stroke="#1a1a1a" stroke-width="2.1" stroke-linecap="butt"/>
<line x1="1345.80" y1="348.08" x2="1374.00" y2="348.08" stroke="#1a1a1a" stroke-width="2.1" stroke-linecap="butt"/>
<line x1="1345.80" y1="355.94" x2="1374.00" y2="355.94" stroke="#1a1a1a" stroke-width="2.1" stroke-linecap="butt"/>
<line x1="1345.80" y1="363.79" x2="1374.00" y2="363.79" stroke="#1a1a1a" stroke-width="2.1" stroke-linecap="butt"/>
<line x1="1345.80" y1="371.65" x2="1374.00" y2="371.65" stroke="#1a1a1a" stroke-width="2.1" stroke-linecap="butt"/>
<line x1="1345.80" y1="379.50" x2="1374.00" y2="379.50" stroke="#1a1a1a" stroke-width="2.1" stroke-linecap="butt"/>
<line x1="1345.80" y1="387.36" x2="1374.00" y2="387.36" stroke="#1a1a1a" stroke-width="2.1" stroke-linecap="butt"/>
<line x1="1345.80" y1="395.21" x2="1374.00" y2="395.21" stroke="#1a1a1a" stroke-width="2.1" stroke-linecap="butt"/>
<line x1="1345.80" y1="403.07" x2="1374.00" y2="403.07" stroke="#1a1a1a" stroke-width="2.1" stroke-linecap="butt"/>
<line x1="1345.80" y1="410.92" x2="1374.00" y2="410.92" stroke="#1a1a1a" stroke-width="2.1" stroke-linecap="butt"/>
<line x1="1345.80" y1="418.78" x2="1374.00" y2="418.78" stroke="#1a1a1a" stroke-width="2.1" stroke-linecap="butt"/>
<line x1="1359.90" y1="285.40" x2="1359.90" y2="273.60" stroke="#000" stroke-width="3.0" stroke-linecap="butt"/>
<line x1="1352.30" y1="273.60" x2="1367.50" y2="273.60" stroke="#000" stroke-width="3.2" stroke-linecap="round"/>
<line x1="896.70" y1="46.10" x2="896.70" y2="423.30" stroke="#000" stroke-width="3.2" stroke-linecap="butt"/>
<line x1="886.40" y1="423.30" x2="1401.70" y2="423.30" stroke="#000" stroke-width="3.2" stroke-linecap="round"/>
<line x1="885.90" y1="46.10" x2="896.70" y2="46.10" stroke="#000" stroke-width="3.2" stroke-linecap="round"/>
<line x1="885.90" y1="121.54" x2="896.70" y2="121.54" stroke="#000" stroke-width="3.2" stroke-linecap="round"/>
<line x1="885.90" y1="196.98" x2="896.70" y2="196.98" stroke="#000" stroke-width="3.2" stroke-linecap="round"/>
<line x1="885.90" y1="272.42" x2="896.70" y2="272.42" stroke="#000" stroke-width="3.2" stroke-linecap="round"/>
<line x1="885.90" y1="347.86" x2="896.70" y2="347.86" stroke="#000" stroke-width="3.2" stroke-linecap="round"/>
<line x1="885.90" y1="423.30" x2="896.70" y2="423.30" stroke="#000" stroke-width="3.2" stroke-linecap="round"/>
<line x1="959.30" y1="423.30" x2="959.30" y2="434.60" stroke="#000" stroke-width="3.2" stroke-linecap="round"/>
<line x1="1084.90" y1="423.30" x2="1084.90" y2="434.60" stroke="#000" stroke-width="3.2" stroke-linecap="round"/>
<line x1="1210.50" y1="423.30" x2="1210.50" y2="434.60" stroke="#000" stroke-width="3.2" stroke-linecap="round"/>
<line x1="1336.30" y1="423.30" x2="1336.30" y2="434.60" stroke="#000" stroke-width="3.2" stroke-linecap="round"/>
<g transform="translate(1228.30,236.50)" fill="#000"><path d="M0,-5.00V5.00M-3.90,-2.30L3.90,2.30M-3.90,2.30L3.90,-2.30" stroke="#444" stroke-width="0.90" fill="none"/><ellipse cx="0" cy="-5.90" rx="1.60" ry="2.05"/><ellipse cx="0" cy="5.90" rx="1.60" ry="2.05"/><ellipse transform="translate(-3.95,-2.55) rotate(30)" rx="2.60" ry="1.50"/><ellipse transform="translate(-3.95,2.55) rotate(-30)" rx="2.60" ry="1.50"/><ellipse transform="translate(3.95,-2.55) rotate(-30)" rx="2.60" ry="1.50"/><ellipse transform="translate(3.95,2.55) rotate(30)" rx="2.60" ry="1.50"/></g>
<g transform="translate(1243.40,236.50)" fill="#000"><path d="M0,-5.00V5.00M-3.90,-2.30L3.90,2.30M-3.90,2.30L3.90,-2.30" stroke="#444" stroke-width="0.90" fill="none"/><ellipse cx="0" cy="-5.90" rx="1.60" ry="2.05"/><ellipse cx="0" cy="5.90" rx="1.60" ry="2.05"/><ellipse transform="translate(-3.95,-2.55) rotate(30)" rx="2.60" ry="1.50"/><ellipse transform="translate(-3.95,2.55) rotate(-30)" rx="2.60" ry="1.50"/><ellipse transform="translate(3.95,-2.55) rotate(-30)" rx="2.60" ry="1.50"/><ellipse transform="translate(3.95,2.55) rotate(30)" rx="2.60" ry="1.50"/></g>
<g transform="translate(1353.50,256.90)" fill="#000"><path d="M0,-5.00V5.00M-3.90,-2.30L3.90,2.30M-3.90,2.30L3.90,-2.30" stroke="#444" stroke-width="0.90" fill="none"/><ellipse cx="0" cy="-5.90" rx="1.60" ry="2.05"/><ellipse cx="0" cy="5.90" rx="1.60" ry="2.05"/><ellipse transform="translate(-3.95,-2.55) rotate(30)" rx="2.60" ry="1.50"/><ellipse transform="translate(-3.95,2.55) rotate(-30)" rx="2.60" ry="1.50"/><ellipse transform="translate(3.95,-2.55) rotate(-30)" rx="2.60" ry="1.50"/><ellipse transform="translate(3.95,2.55) rotate(30)" rx="2.60" ry="1.50"/></g>
<g transform="translate(1368.50,256.90)" fill="#000"><path d="M0,-5.00V5.00M-3.90,-2.30L3.90,2.30M-3.90,2.30L3.90,-2.30" stroke="#444" stroke-width="0.90" fill="none"/><ellipse cx="0" cy="-5.90" rx="1.60" ry="2.05"/><ellipse cx="0" cy="5.90" rx="1.60" ry="2.05"/><ellipse transform="translate(-3.95,-2.55) rotate(30)" rx="2.60" ry="1.50"/><ellipse transform="translate(-3.95,2.55) rotate(-30)" rx="2.60" ry="1.50"/><ellipse transform="translate(3.95,-2.55) rotate(-30)" rx="2.60" ry="1.50"/><ellipse transform="translate(3.95,2.55) rotate(30)" rx="2.60" ry="1.50"/></g>
<rect x="969.00" y="9.80" width="35.5" height="21.5" rx="1.5" fill="#fff" stroke="#000" stroke-width="3.2"/>
<rect x="1235.20" y="13.20" width="36.0" height="21.5" rx="1.5" fill="#fff" stroke="#000" stroke-width="3.2"/>
<line x1="1236.70" y1="20.70" x2="1269.70" y2="20.70" stroke="#1a1a1a" stroke-width="2.1" stroke-linecap="butt"/>
<line x1="1236.70" y1="28.40" x2="1269.70" y2="28.40" stroke="#1a1a1a" stroke-width="2.1" stroke-linecap="butt"/>
<rect x="146.80" y="819.50" width="31.0" height="183.90" fill="#fff" stroke="#000" stroke-width="3.2" stroke-linejoin="round"/>
<line x1="162.30" y1="819.50" x2="162.30" y2="814.80" stroke="#000" stroke-width="3.0" stroke-linecap="butt"/>
<line x1="154.70" y1="814.80" x2="169.90" y2="814.80" stroke="#000" stroke-width="3.2" stroke-linecap="round"/>
<rect x="193.90" y="822.90" width="31.0" height="180.50" fill="#fff" stroke="#000" stroke-width="3.2" stroke-linejoin="round"/>
<line x1="195.30" y1="830.60" x2="223.50" y2="830.60" stroke="#1a1a1a" stroke-width="2.1" stroke-linecap="butt"/>
<line x1="195.30" y1="838.46" x2="223.50" y2="838.46" stroke="#1a1a1a" stroke-width="2.1" stroke-linecap="butt"/>
<line x1="195.30" y1="846.31" x2="223.50" y2="846.31" stroke="#1a1a1a" stroke-width="2.1" stroke-linecap="butt"/>
<line x1="195.30" y1="854.17" x2="223.50" y2="854.17" stroke="#1a1a1a" stroke-width="2.1" stroke-linecap="butt"/>
<line x1="195.30" y1="862.02" x2="223.50" y2="862.02" stroke="#1a1a1a" stroke-width="2.1" stroke-linecap="butt"/>
<line x1="195.30" y1="869.88" x2="223.50" y2="869.88" stroke="#1a1a1a" stroke-width="2.1" stroke-linecap="butt"/>
<line x1="195.30" y1="877.73" x2="223.50" y2="877.73" stroke="#1a1a1a" stroke-width="2.1" stroke-linecap="butt"/>
<line x1="195.30" y1="885.59" x2="223.50" y2="885.59" stroke="#1a1a1a" stroke-width="2.1" stroke-linecap="butt"/>
<line x1="195.30" y1="893.44" x2="223.50" y2="893.44" stroke="#1a1a1a" stroke-width="2.1" stroke-linecap="butt"/>
<line x1="195.30" y1="901.30" x2="223.50" y2="901.30" stroke="#1a1a1a" stroke-width="2.1" stroke-linecap="butt"/>
<line x1="195.30" y1="909.15" x2="223.50" y2="909.15" stroke="#1a1a1a" stroke-width="2.1" stroke-linecap="butt"/>
<line x1="195.30" y1="917.00" x2="223.50" y2="917.00" stroke="#1a1a1a" stroke-width="2.1" stroke-linecap="butt"/>
<line x1="195.30" y1="924.86" x2="223.50" y2="924.86" stroke="#1a1a1a" stroke-width="2.1" stroke-linecap="butt"/>
<line x1="195.30" y1="932.72" x2="223.50" y2="932.72" stroke="#1a1a1a" stroke-width="2.1" stroke-linecap="butt"/>
<line x1="195.30" y1="940.57" x2="223.50" y2="940.57" stroke="#1a1a1a" stroke-width="2.1" stroke-linecap="butt"/>
<line x1="195.30" y1="948.43" x2="223.50" y2="948.43" stroke="#1a1a1a" stroke-width="2.1" stroke-linecap="butt"/>
<line x1="195.30" y1="956.28" x2="223.50" y2="956.28" stroke="#1a1a1a" stroke-width="2.1" stroke-linecap="butt"/>
<line x1="195.30" y1="964.13" x2="223.50" y2="964.13" stroke="#1a1a1a" stroke-width="2.1" stroke-linecap="butt"/>
<line x1="195.30" y1="971.99" x2="223.50" y2="971.99" stroke="#1a1a1a" stroke-width="2.1" stroke-linecap="butt"/>
<line x1="195.30" y1="979.85" x2="223.50" y2="979.85" stroke="#1a1a1a" stroke-width="2.1" stroke-linecap="butt"/>
<line x1="195.30" y1="987.70" x2="223.50" y2="987.70" stroke="#1a1a1a" stroke-width="2.1" stroke-linecap="butt"/>
<line x1="195.30" y1="995.56" x2="223.50" y2="995.56" stroke="#1a1a1a" stroke-width="2.1" stroke-linecap="butt"/>
<line x1="209.40" y1="822.90" x2="209.40" y2="817.70" stroke="#000" stroke-width="3.0" stroke-linecap="butt"/>
<line x1="201.80" y1="817.70" x2="217.00" y2="817.70" stroke="#000" stroke-width="3.2" stroke-linecap="round"/>
<rect x="272.50" y="809.70" width="31.0" height="193.70" fill="#fff" stroke="#000" stroke-width="3.2" stroke-linejoin="round"/>
<line x1="288.00" y1="809.70" x2="288.00" y2="802.70" stroke="#000" stroke-width="3.0" stroke-linecap="butt"/>
<line x1="280.40" y1="802.70" x2="295.60" y2="802.70" stroke="#000" stroke-width="3.2" stroke-linecap="round"/>
<rect x="319.60" y="802.00" width="31.0" height="201.40" fill="#fff" stroke="#000" stroke-width="3.2" stroke-linejoin="round"/>
<line x1="321.00" y1="809.70" x2="349.20" y2="809.70" stroke="#1a1a1a" stroke-width="2.1" stroke-linecap="butt"/>
<line x1="321.00" y1="817.56" x2="349.20" y2="817.56" stroke="#1a1a1a" stroke-width="2.1" stroke-linecap="butt"/>
<line x1="321.00" y1="825.41" x2="349.20" y2="825.41" stroke="#1a1a1a" stroke-width="2.1" stroke-linecap="butt"/>
<line x1="321.00" y1="833.27" x2="349.20" y2="833.27" stroke="#1a1a1a" stroke-width="2.1" stroke-linecap="butt"/>
<line x1="321.00" y1="841.12" x2="349.20" y2="841.12" stroke="#1a1a1a" stroke-width="2.1" stroke-linecap="butt"/>
<line x1="321.00" y1="848.98" x2="349.20" y2="848.98" stroke="#1a1a1a" stroke-width="2.1" stroke-linecap="butt"/>
<line x1="321.00" y1="856.83" x2="349.20" y2="856.83" stroke="#1a1a1a" stroke-width="2.1" stroke-linecap="butt"/>
<line x1="321.00" y1="864.69" x2="349.20" y2="864.69" stroke="#1a1a1a" stroke-width="2.1" stroke-linecap="butt"/>
<line x1="321.00" y1="872.54" x2="349.20" y2="872.54" stroke="#1a1a1a" stroke-width="2.1" stroke-linecap="butt"/>
<line x1="321.00" y1="880.40" x2="349.20" y2="880.40" stroke="#1a1a1a" stroke-width="2.1" stroke-linecap="butt"/>
<line x1="321.00" y1="888.25" x2="349.20" y2="888.25" stroke="#1a1a1a" stroke-width="2.1" stroke-linecap="butt"/>
<line x1="321.00" y1="896.11" x2="349.20" y2="896.11" stroke="#1a1a1a" stroke-width="2.1" stroke-linecap="butt"/>
<line x1="321.00" y1="903.96" x2="349.20" y2="903.96" stroke="#1a1a1a" stroke-width="2.1" stroke-linecap="butt"/>
<line x1="321.00" y1="911.82" x2="349.20" y2="911.82" stroke="#1a1a1a" stroke-width="2.1" stroke-linecap="butt"/>
<line x1="321.00" y1="919.67" x2="349.20" y2="919.67" stroke="#1a1a1a" stroke-width="2.1" stroke-linecap="butt"/>
<line x1="321.00" y1="927.53" x2="349.20" y2="927.53" stroke="#1a1a1a" stroke-width="2.1" stroke-linecap="butt"/>
<line x1="321.00" y1="935.38" x2="349.20" y2="935.38" stroke="#1a1a1a" stroke-width="2.1" stroke-linecap="butt"/>
<line x1="321.00" y1="943.24" x2="349.20" y2="943.24" stroke="#1a1a1a" stroke-width="2.1" stroke-linecap="butt"/>
<line x1="321.00" y1="951.09" x2="349.20" y2="951.09" stroke="#1a1a1a" stroke-width="2.1" stroke-linecap="butt"/>
<line x1="321.00" y1="958.95" x2="349.20" y2="958.95" stroke="#1a1a1a" stroke-width="2.1" stroke-linecap="butt"/>
<line x1="321.00" y1="966.80" x2="349.20" y2="966.80" stroke="#1a1a1a" stroke-width="2.1" stroke-linecap="butt"/>
<line x1="321.00" y1="974.66" x2="349.20" y2="974.66" stroke="#1a1a1a" stroke-width="2.1" stroke-linecap="butt"/>
<line x1="321.00" y1="982.51" x2="349.20" y2="982.51" stroke="#1a1a1a" stroke-width="2.1" stroke-linecap="butt"/>
<line x1="321.00" y1="990.37" x2="349.20" y2="990.37" stroke="#1a1a1a" stroke-width="2.1" stroke-linecap="butt"/>
<line x1="321.00" y1="998.22" x2="349.20" y2="998.22" stroke="#1a1a1a" stroke-width="2.1" stroke-linecap="butt"/>
<line x1="335.10" y1="802.00" x2="335.10" y2="796.90" stroke="#000" stroke-width="3.0" stroke-linecap="butt"/>
<line x1="327.50" y1="796.90" x2="342.70" y2="796.90" stroke="#000" stroke-width="3.2" stroke-linecap="round"/>
<rect x="398.20" y="813.90" width="31.0" height="189.50" fill="#fff" stroke="#000" stroke-width="3.2" stroke-linejoin="round"/>
<line x1="413.70" y1="813.90" x2="413.70" y2="805.10" stroke="#000" stroke-width="3.0" stroke-linecap="butt"/>
<line x1="406.10" y1="805.10" x2="421.30" y2="805.10" stroke="#000" stroke-width="3.2" stroke-linecap="round"/>
<rect x="445.30" y="763.20" width="31.0" height="240.20" fill="#fff" stroke="#000" stroke-width="3.2" stroke-linejoin="round"/>
<line x1="446.70" y1="770.90" x2="474.90" y2="770.90" stroke="#1a1a1a" stroke-width="2.1" stroke-linecap="butt"/>
<line x1="446.70" y1="778.76" x2="474.90" y2="778.76" stroke="#1a1a1a" stroke-width="2.1" stroke-linecap="butt"/>
<line x1="446.70" y1="786.61" x2="474.90" y2="786.61" stroke="#1a1a1a" stroke-width="2.1" stroke-linecap="butt"/>
<line x1="446.70" y1="794.47" x2="474.90" y2="794.47" stroke="#1a1a1a" stroke-width="2.1" stroke-linecap="butt"/>
<line x1="446.70" y1="802.32" x2="474.90" y2="802.32" stroke="#1a1a1a" stroke-width="2.1" stroke-linecap="butt"/>
<line x1="446.70" y1="810.18" x2="474.90" y2="810.18" stroke="#1a1a1a" stroke-width="2.1" stroke-linecap="butt"/>
<line x1="446.70" y1="818.03" x2="474.90" y2="818.03" stroke="#1a1a1a" stroke-width="2.1" stroke-linecap="butt"/>
<line x1="446.70" y1="825.89" x2="474.90" y2="825.89" stroke="#1a1a1a" stroke-width="2.1" stroke-linecap="butt"/>
<line x1="446.70" y1="833.74" x2="474.90" y2="833.74" stroke="#1a1a1a" stroke-width="2.1" stroke-linecap="butt"/>
<line x1="446.70" y1="841.60" x2="474.90" y2="841.60" stroke="#1a1a1a" stroke-width="2.1" stroke-linecap="butt"/>
<line x1="446.70" y1="849.45" x2="474.90" y2="849.45" stroke="#1a1a1a" stroke-width="2.1" stroke-linecap="butt"/>
<line x1="446.70" y1="857.31" x2="474.90" y2="857.31" stroke="#1a1a1a" stroke-width="2.1" stroke-linecap="butt"/>
<line x1="446.70" y1="865.16" x2="474.90" y2="865.16" stroke="#1a1a1a" stroke-width="2.1" stroke-linecap="butt"/>
<line x1="446.70" y1="873.02" x2="474.90" y2="873.02" stroke="#1a1a1a" stroke-width="2.1" stroke-linecap="butt"/>
<line x1="446.70" y1="880.87" x2="474.90" y2="880.87" stroke="#1a1a1a" stroke-width="2.1" stroke-linecap="butt"/>
<line x1="446.70" y1="888.73" x2="474.90" y2="888.73" stroke="#1a1a1a" stroke-width="2.1" stroke-linecap="butt"/>
<line x1="446.70" y1="896.58" x2="474.90" y2="896.58" stroke="#1a1a1a" stroke-width="2.1" stroke-linecap="butt"/>
<line x1="446.70" y1="904.44" x2="474.90" y2="904.44" stroke="#1a1a1a" stroke-width="2.1" stroke-linecap="butt"/>
<line x1="446.70" y1="912.29" x2="474.90" y2="912.29" stroke="#1a1a1a" stroke-width="2.1" stroke-linecap="butt"/>
<line x1="446.70" y1="920.15" x2="474.90" y2="920.15" stroke="#1a1a1a" stroke-width="2.1" stroke-linecap="butt"/>
<line x1="446.70" y1="928.00" x2="474.90" y2="928.00" stroke="#1a1a1a" stroke-width="2.1" stroke-linecap="butt"/>
<line x1="446.70" y1="935.86" x2="474.90" y2="935.86" stroke="#1a1a1a" stroke-width="2.1" stroke-linecap="butt"/>
<line x1="446.70" y1="943.71" x2="474.90" y2="943.71" stroke="#1a1a1a" stroke-width="2.1" stroke-linecap="butt"/>
<line x1="446.70" y1="951.57" x2="474.90" y2="951.57" stroke="#1a1a1a" stroke-width="2.1" stroke-linecap="butt"/>
<line x1="446.70" y1="959.42" x2="474.90" y2="959.42" stroke="#1a1a1a" stroke-width="2.1" stroke-linecap="butt"/>
<line x1="446.70" y1="967.28" x2="474.90" y2="967.28" stroke="#1a1a1a" stroke-width="2.1" stroke-linecap="butt"/>
<line x1="446.70" y1="975.13" x2="474.90" y2="975.13" stroke="#1a1a1a" stroke-width="2.1" stroke-linecap="butt"/>
<line x1="446.70" y1="982.99" x2="474.90" y2="982.99" stroke="#1a1a1a" stroke-width="2.1" stroke-linecap="butt"/>
<line x1="446.70" y1="990.84" x2="474.90" y2="990.84" stroke="#1a1a1a" stroke-width="2.1" stroke-linecap="butt"/>
<line x1="446.70" y1="998.70" x2="474.90" y2="998.70" stroke="#1a1a1a" stroke-width="2.1" stroke-linecap="butt"/>
<line x1="460.80" y1="763.20" x2="460.80" y2="755.20" stroke="#000" stroke-width="3.0" stroke-linecap="butt"/>
<line x1="453.20" y1="755.20" x2="468.40" y2="755.20" stroke="#000" stroke-width="3.2" stroke-linecap="round"/>
<rect x="523.90" y="815.70" width="31.0" height="187.70" fill="#fff" stroke="#000" stroke-width="3.2" stroke-linejoin="round"/>
<line x1="539.40" y1="815.70" x2="539.40" y2="807.60" stroke="#000" stroke-width="3.0" stroke-linecap="butt"/>
<line x1="531.80" y1="807.60" x2="547.00" y2="807.60" stroke="#000" stroke-width="3.2" stroke-linecap="round"/>
<rect x="571.00" y="713.00" width="31.0" height="290.40" fill="#fff" stroke="#000" stroke-width="3.2" stroke-linejoin="round"/>
<line x1="572.40" y1="720.70" x2="600.60" y2="720.70" stroke="#1a1a1a" stroke-width="2.1" stroke-linecap="butt"/>
<line x1="572.40" y1="728.56" x2="600.60" y2="728.56" stroke="#1a1a1a" stroke-width="2.1" stroke-linecap="butt"/>
<line x1="572.40" y1="736.41" x2="600.60" y2="736.41" stroke="#1a1a1a" stroke-width="2.1" stroke-linecap="butt"/>
<line x1="572.40" y1="744.27" x2="600.60" y2="744.27" stroke="#1a1a1a" stroke-width="2.1" stroke-linecap="butt"/>
<line x1="572.40" y1="752.12" x2="600.60" y2="752.12" stroke="#1a1a1a" stroke-width="2.1" stroke-linecap="butt"/>
<line x1="572.40" y1="759.98" x2="600.60" y2="759.98" stroke="#1a1a1a" stroke-width="2.1" stroke-linecap="butt"/>
<line x1="572.40" y1="767.83" x2="600.60" y2="767.83" stroke="#1a1a1a" stroke-width="2.1" stroke-linecap="butt"/>
<line x1="572.40" y1="775.69" x2="600.60" y2="775.69" stroke="#1a1a1a" stroke-width="2.1" stroke-linecap="butt"/>
<line x1="572.40" y1="783.54" x2="600.60" y2="783.54" stroke="#1a1a1a" stroke-width="2.1" stroke-linecap="butt"/>
<line x1="572.40" y1="791.40" x2="600.60" y2="791.40" stroke="#1a1a1a" stroke-width="2.1" stroke-linecap="butt"/>
<line x1="572.40" y1="799.25" x2="600.60" y2="799.25" stroke="#1a1a1a" stroke-width="2.1" stroke-linecap="butt"/>
<line x1="572.40" y1="807.11" x2="600.60" y2="807.11" stroke="#1a1a1a" stroke-width="2.1" stroke-linecap="butt"/>
<line x1="572.40" y1="814.96" x2="600.60" y2="814.96" stroke="#1a1a1a" stroke-width="2.1" stroke-linecap="butt"/>
<line x1="572.40" y1="822.82" x2="600.60" y2="822.82" stroke="#1a1a1a" stroke-width="2.1" stroke-linecap="butt"/>
<line x1="572.40" y1="830.67" x2="600.60" y2="830.67" stroke="#1a1a1a" stroke-width="2.1" stroke-linecap="butt"/>
<line x1="572.40" y1="838.53" x2="600.60" y2="838.53" stroke="#1a1a1a" stroke-width="2.1" stroke-linecap="butt"/>
<line x1="572.40" y1="846.38" x2="600.60" y2="846.38" stroke="#1a1a1a" stroke-width="2.1" stroke-linecap="butt"/>
<line x1="572.40" y1="854.24" x2="600.60" y2="854.24" stroke="#1a1a1a" stroke-width="2.1" stroke-linecap="butt"/>
<line x1="572.40" y1="862.09" x2="600.60" y2="862.09" stroke="#1a1a1a" stroke-width="2.1" stroke-linecap="butt"/>
<line x1="572.40" y1="869.95" x2="600.60" y2="869.95" stroke="#1a1a1a" stroke-width="2.1" stroke-linecap="butt"/>
<line x1="572.40" y1="877.80" x2="600.60" y2="877.80" stroke="#1a1a1a" stroke-width="2.1" stroke-linecap="butt"/>
<line x1="572.40" y1="885.66" x2="600.60" y2="885.66" stroke="#1a1a1a" stroke-width="2.1" stroke-linecap="butt"/>
<line x1="572.40" y1="893.51" x2="600.60" y2="893.51" stroke="#1a1a1a" stroke-width="2.1" stroke-linecap="butt"/>
<line x1="572.40" y1="901.37" x2="600.60" y2="901.37" stroke="#1a1a1a" stroke-width="2.1" stroke-linecap="butt"/>
<line x1="572.40" y1="909.22" x2="600.60" y2="909.22" stroke="#1a1a1a" stroke-width="2.1" stroke-linecap="butt"/>
<line x1="572.40" y1="917.08" x2="600.60" y2="917.08" stroke="#1a1a1a" stroke-width="2.1" stroke-linecap="butt"/>
<line x1="572.40" y1="924.93" x2="600.60" y2="924.93" stroke="#1a1a1a" stroke-width="2.1" stroke-linecap="butt"/>
<line x1="572.40" y1="932.79" x2="600.60" y2="932.79" stroke="#1a1a1a" stroke-width="2.1" stroke-linecap="butt"/>
<line x1="572.40" y1="940.64" x2="600.60" y2="940.64" stroke="#1a1a1a" stroke-width="2.1" stroke-linecap="butt"/>
<line x1="572.40" y1="948.50" x2="600.60" y2="948.50" stroke="#1a1a1a" stroke-width="2.1" stroke-linecap="butt"/>
<line x1="572.40" y1="956.35" x2="600.60" y2="956.35" stroke="#1a1a1a" stroke-width="2.1" stroke-linecap="butt"/>
<line x1="572.40" y1="964.21" x2="600.60" y2="964.21" stroke="#1a1a1a" stroke-width="2.1" stroke-linecap="butt"/>
<line x1="572.40" y1="972.06" x2="600.60" y2="972.06" stroke="#1a1a1a" stroke-width="2.1" stroke-linecap="butt"/>
<line x1="572.40" y1="979.92" x2="600.60" y2="979.92" stroke="#1a1a1a" stroke-width="2.1" stroke-linecap="butt"/>
<line x1="572.40" y1="987.77" x2="600.60" y2="987.77" stroke="#1a1a1a" stroke-width="2.1" stroke-linecap="butt"/>
<line x1="572.40" y1="995.62" x2="600.60" y2="995.62" stroke="#1a1a1a" stroke-width="2.1" stroke-linecap="butt"/>
<line x1="586.50" y1="713.00" x2="586.50" y2="695.30" stroke="#000" stroke-width="3.0" stroke-linecap="butt"/>
<line x1="578.90" y1="695.30" x2="594.10" y2="695.30" stroke="#000" stroke-width="3.2" stroke-linecap="round"/>
<line x1="123.30" y1="625.60" x2="123.30" y2="1003.40" stroke="#000" stroke-width="3.2" stroke-linecap="butt"/>
<line x1="112.70" y1="1003.40" x2="628.50" y2="1003.40" stroke="#000" stroke-width="3.2" stroke-linecap="round"/>
<line x1="112.50" y1="625.60" x2="123.30" y2="625.60" stroke="#000" stroke-width="3.2" stroke-linecap="round"/>
<line x1="112.50" y1="701.16" x2="123.30" y2="701.16" stroke="#000" stroke-width="3.2" stroke-linecap="round"/>
<line x1="112.50" y1="776.72" x2="123.30" y2="776.72" stroke="#000" stroke-width="3.2" stroke-linecap="round"/>
<line x1="112.50" y1="852.28" x2="123.30" y2="852.28" stroke="#000" stroke-width="3.2" stroke-linecap="round"/>
<line x1="112.50" y1="927.84" x2="123.30" y2="927.84" stroke="#000" stroke-width="3.2" stroke-linecap="round"/>
<line x1="112.50" y1="1003.40" x2="123.30" y2="1003.40" stroke="#000" stroke-width="3.2" stroke-linecap="round"/>
<line x1="185.80" y1="1003.40" x2="185.80" y2="1014.70" stroke="#000" stroke-width="3.2" stroke-linecap="round"/>
<line x1="311.50" y1="1003.40" x2="311.50" y2="1014.70" stroke="#000" stroke-width="3.2" stroke-linecap="round"/>
<line x1="437.20" y1="1003.40" x2="437.20" y2="1014.70" stroke="#000" stroke-width="3.2" stroke-linecap="round"/>
<line x1="562.90" y1="1003.40" x2="562.90" y2="1014.70" stroke="#000" stroke-width="3.2" stroke-linecap="round"/>
<g transform="translate(460.90,741.40)" fill="#000"><path d="M0,-5.00V5.00M-3.90,-2.30L3.90,2.30M-3.90,2.30L3.90,-2.30" stroke="#444" stroke-width="0.90" fill="none"/><ellipse cx="0" cy="-5.90" rx="1.60" ry="2.05"/><ellipse cx="0" cy="5.90" rx="1.60" ry="2.05"/><ellipse transform="translate(-3.95,-2.55) rotate(30)" rx="2.60" ry="1.50"/><ellipse transform="translate(-3.95,2.55) rotate(-30)" rx="2.60" ry="1.50"/><ellipse transform="translate(3.95,-2.55) rotate(-30)" rx="2.60" ry="1.50"/><ellipse transform="translate(3.95,2.55) rotate(30)" rx="2.60" ry="1.50"/></g>
<g transform="translate(579.10,679.00)" fill="#000"><path d="M0,-5.00V5.00M-3.90,-2.30L3.90,2.30M-3.90,2.30L3.90,-2.30" stroke="#444" stroke-width="0.90" fill="none"/><ellipse cx="0" cy="-5.90" rx="1.60" ry="2.05"/><ellipse cx="0" cy="5.90" rx="1.60" ry="2.05"/><ellipse transform="translate(-3.95,-2.55) rotate(30)" rx="2.60" ry="1.50"/><ellipse transform="translate(-3.95,2.55) rotate(-30)" rx="2.60" ry="1.50"/><ellipse transform="translate(3.95,-2.55) rotate(-30)" rx="2.60" ry="1.50"/><ellipse transform="translate(3.95,2.55) rotate(30)" rx="2.60" ry="1.50"/></g>
<g transform="translate(594.00,679.00)" fill="#000"><path d="M0,-5.00V5.00M-3.90,-2.30L3.90,2.30M-3.90,2.30L3.90,-2.30" stroke="#444" stroke-width="0.90" fill="none"/><ellipse cx="0" cy="-5.90" rx="1.60" ry="2.05"/><ellipse cx="0" cy="5.90" rx="1.60" ry="2.05"/><ellipse transform="translate(-3.95,-2.55) rotate(30)" rx="2.60" ry="1.50"/><ellipse transform="translate(-3.95,2.55) rotate(-30)" rx="2.60" ry="1.50"/><ellipse transform="translate(3.95,-2.55) rotate(-30)" rx="2.60" ry="1.50"/><ellipse transform="translate(3.95,2.55) rotate(30)" rx="2.60" ry="1.50"/></g>
<rect x="195.30" y="590.80" width="35.5" height="21.5" rx="1.5" fill="#fff" stroke="#000" stroke-width="3.2"/>
<rect x="462.60" y="595.00" width="36.0" height="21.5" rx="1.5" fill="#fff" stroke="#000" stroke-width="3.2"/>
<line x1="464.10" y1="602.50" x2="497.10" y2="602.50" stroke="#1a1a1a" stroke-width="2.1" stroke-linecap="butt"/>
<line x1="464.10" y1="610.20" x2="497.10" y2="610.20" stroke="#1a1a1a" stroke-width="2.1" stroke-linecap="butt"/>
<rect x="918.60" y="924.10" width="31.0" height="79.30" fill="#fff" stroke="#000" stroke-width="3.2" stroke-linejoin="round"/>
<line x1="934.10" y1="924.10" x2="934.10" y2="915.40" stroke="#000" stroke-width="3.0" stroke-linecap="butt"/>
<line x1="926.50" y1="915.40" x2="941.70" y2="915.40" stroke="#000" stroke-width="3.2" stroke-linecap="round"/>
<rect x="965.70" y="905.10" width="31.0" height="98.30" fill="#fff" stroke="#000" stroke-width="3.2" stroke-linejoin="round"/>
<line x1="967.10" y1="912.80" x2="995.30" y2="912.80" stroke="#1a1a1a" stroke-width="2.1" stroke-linecap="butt"/>
<line x1="967.10" y1="920.66" x2="995.30" y2="920.66" stroke="#1a1a1a" stroke-width="2.1" stroke-linecap="butt"/>
<line x1="967.10" y1="928.51" x2="995.30" y2="928.51" stroke="#1a1a1a" stroke-width="2.1" stroke-linecap="butt"/>
<line x1="967.10" y1="936.37" x2="995.30" y2="936.37" stroke="#1a1a1a" stroke-width="2.1" stroke-linecap="butt"/>
<line x1="967.10" y1="944.22" x2="995.30" y2="944.22" stroke="#1a1a1a" stroke-width="2.1" stroke-linecap="butt"/>
<line x1="967.10" y1="952.08" x2="995.30" y2="952.08" stroke="#1a1a1a" stroke-width="2.1" stroke-linecap="butt"/>
<line x1="967.10" y1="959.93" x2="995.30" y2="959.93" stroke="#1a1a1a" stroke-width="2.1" stroke-linecap="butt"/>
<line x1="967.10" y1="967.79" x2="995.30" y2="967.79" stroke="#1a1a1a" stroke-width="2.1" stroke-linecap="butt"/>
<line x1="967.10" y1="975.64" x2="995.30" y2="975.64" stroke="#1a1a1a" stroke-width="2.1" stroke-linecap="butt"/>
<line x1="967.10" y1="983.50" x2="995.30" y2="983.50" stroke="#1a1a1a" stroke-width="2.1" stroke-linecap="butt"/>
<line x1="967.10" y1="991.35" x2="995.30" y2="991.35" stroke="#1a1a1a" stroke-width="2.1" stroke-linecap="butt"/>
<line x1="967.10" y1="999.21" x2="995.30" y2="999.21" stroke="#1a1a1a" stroke-width="2.1" stroke-linecap="butt"/>
<line x1="981.20" y1="905.10" x2="981.20" y2="896.20" stroke="#000" stroke-width="3.0" stroke-linecap="butt"/>
<line x1="973.60" y1="896.20" x2="988.80" y2="896.20" stroke="#000" stroke-width="3.2" stroke-linecap="round"/>
<rect x="1044.30" y="922.20" width="31.0" height="81.20" fill="#fff" stroke="#000" stroke-width="3.2" stroke-linejoin="round"/>
<line x1="1059.80" y1="922.20" x2="1059.80" y2="917.60" stroke="#000" stroke-width="3.0" stroke-linecap="butt"/>
<line x1="1052.20" y1="917.60" x2="1067.40" y2="917.60" stroke="#000" stroke-width="3.2" stroke-linecap="round"/>
<rect x="1091.40" y="913.30" width="31.0" height="90.10" fill="#fff" stroke="#000" stroke-width="3.2" stroke-linejoin="round"/>
<line x1="1092.80" y1="921.00" x2="1121.00" y2="921.00" stroke="#1a1a1a" stroke-width="2.1" stroke-linecap="butt"/>
<line x1="1092.80" y1="928.86" x2="1121.00" y2="928.86" stroke="#1a1a1a" stroke-width="2.1" stroke-linecap="butt"/>
<line x1="1092.80" y1="936.71" x2="1121.00" y2="936.71" stroke="#1a1a1a" stroke-width="2.1" stroke-linecap="butt"/>
<line x1="1092.80" y1="944.57" x2="1121.00" y2="944.57" stroke="#1a1a1a" stroke-width="2.1" stroke-linecap="butt"/>
<line x1="1092.80" y1="952.42" x2="1121.00" y2="952.42" stroke="#1a1a1a" stroke-width="2.1" stroke-linecap="butt"/>
<line x1="1092.80" y1="960.27" x2="1121.00" y2="960.27" stroke="#1a1a1a" stroke-width="2.1" stroke-linecap="butt"/>
<line x1="1092.80" y1="968.13" x2="1121.00" y2="968.13" stroke="#1a1a1a" stroke-width="2.1" stroke-linecap="butt"/>
<line x1="1092.80" y1="975.99" x2="1121.00" y2="975.99" stroke="#1a1a1a" stroke-width="2.1" stroke-linecap="butt"/>
<line x1="1092.80" y1="983.84" x2="1121.00" y2="983.84" stroke="#1a1a1a" stroke-width="2.1" stroke-linecap="butt"/>
<line x1="1092.80" y1="991.70" x2="1121.00" y2="991.70" stroke="#1a1a1a" stroke-width="2.1" stroke-linecap="butt"/>
<line x1="1092.80" y1="999.55" x2="1121.00" y2="999.55" stroke="#1a1a1a" stroke-width="2.1" stroke-linecap="butt"/>
<line x1="1106.90" y1="913.30" x2="1106.90" y2="906.80" stroke="#000" stroke-width="3.0" stroke-linecap="butt"/>
<line x1="1099.30" y1="906.80" x2="1114.50" y2="906.80" stroke="#000" stroke-width="3.2" stroke-linecap="round"/>
<rect x="1170.00" y="916.10" width="31.0" height="87.30" fill="#fff" stroke="#000" stroke-width="3.2" stroke-linejoin="round"/>
<line x1="1185.50" y1="916.10" x2="1185.50" y2="909.90" stroke="#000" stroke-width="3.0" stroke-linecap="butt"/>
<line x1="1177.90" y1="909.90" x2="1193.10" y2="909.90" stroke="#000" stroke-width="3.2" stroke-linecap="round"/>
<rect x="1217.10" y="849.50" width="31.0" height="153.90" fill="#fff" stroke="#000" stroke-width="3.2" stroke-linejoin="round"/>
<line x1="1218.50" y1="857.20" x2="1246.70" y2="857.20" stroke="#1a1a1a" stroke-width="2.1" stroke-linecap="butt"/>
<line x1="1218.50" y1="865.06" x2="1246.70" y2="865.06" stroke="#1a1a1a" stroke-width="2.1" stroke-linecap="butt"/>
<line x1="1218.50" y1="872.91" x2="1246.70" y2="872.91" stroke="#1a1a1a" stroke-width="2.1" stroke-linecap="butt"/>
<line x1="1218.50" y1="880.77" x2="1246.70" y2="880.77" stroke="#1a1a1a" stroke-width="2.1" stroke-linecap="butt"/>
<line x1="1218.50" y1="888.62" x2="1246.70" y2="888.62" stroke="#1a1a1a" stroke-width="2.1" stroke-linecap="butt"/>
<line x1="1218.50" y1="896.48" x2="1246.70" y2="896.48" stroke="#1a1a1a" stroke-width="2.1" stroke-linecap="butt"/>
<line x1="1218.50" y1="904.33" x2="1246.70" y2="904.33" stroke="#1a1a1a" stroke-width="2.1" stroke-linecap="butt"/>
<line x1="1218.50" y1="912.19" x2="1246.70" y2="912.19" stroke="#1a1a1a" stroke-width="2.1" stroke-linecap="butt"/>
<line x1="1218.50" y1="920.04" x2="1246.70" y2="920.04" stroke="#1a1a1a" stroke-width="2.1" stroke-linecap="butt"/>
<line x1="1218.50" y1="927.90" x2="1246.70" y2="927.90" stroke="#1a1a1a" stroke-width="2.1" stroke-linecap="butt"/>
<line x1="1218.50" y1="935.75" x2="1246.70" y2="935.75" stroke="#1a1a1a" stroke-width="2.1" stroke-linecap="butt"/>
<line x1="1218.50" y1="943.61" x2="1246.70" y2="943.61" stroke="#1a1a1a" stroke-width="2.1" stroke-linecap="butt"/>
<line x1="1218.50" y1="951.46" x2="1246.70" y2="951.46" stroke="#1a1a1a" stroke-width="2.1" stroke-linecap="butt"/>
<line x1="1218.50" y1="959.32" x2="1246.70" y2="959.32" stroke="#1a1a1a" stroke-width="2.1" stroke-linecap="butt"/>
<line x1="1218.50" y1="967.17" x2="1246.70" y2="967.17" stroke="#1a1a1a" stroke-width="2.1" stroke-linecap="butt"/>
<line x1="1218.50" y1="975.03" x2="1246.70" y2="975.03" stroke="#1a1a1a" stroke-width="2.1" stroke-linecap="butt"/>
<line x1="1218.50" y1="982.88" x2="1246.70" y2="982.88" stroke="#1a1a1a" stroke-width="2.1" stroke-linecap="butt"/>
<line x1="1218.50" y1="990.74" x2="1246.70" y2="990.74" stroke="#1a1a1a" stroke-width="2.1" stroke-linecap="butt"/>
<line x1="1218.50" y1="998.59" x2="1246.70" y2="998.59" stroke="#1a1a1a" stroke-width="2.1" stroke-linecap="butt"/>
<line x1="1232.60" y1="849.50" x2="1232.60" y2="826.40" stroke="#000" stroke-width="3.0" stroke-linecap="butt"/>
<line x1="1225.00" y1="826.40" x2="1240.20" y2="826.40" stroke="#000" stroke-width="3.2" stroke-linecap="round"/>
<rect x="1295.70" y="913.00" width="31.0" height="90.40" fill="#fff" stroke="#000" stroke-width="3.2" stroke-linejoin="round"/>
<line x1="1311.20" y1="913.00" x2="1311.20" y2="907.40" stroke="#000" stroke-width="3.0" stroke-linecap="butt"/>
<line x1="1303.60" y1="907.40" x2="1318.80" y2="907.40" stroke="#000" stroke-width="3.2" stroke-linecap="round"/>
<rect x="1342.80" y="763.50" width="31.0" height="239.90" fill="#fff" stroke="#000" stroke-width="3.2" stroke-linejoin="round"/>
<line x1="1344.20" y1="771.20" x2="1372.40" y2="771.20" stroke="#1a1a1a" stroke-width="2.1" stroke-linecap="butt"/>
<line x1="1344.20" y1="779.06" x2="1372.40" y2="779.06" stroke="#1a1a1a" stroke-width="2.1" stroke-linecap="butt"/>
<line x1="1344.20" y1="786.91" x2="1372.40" y2="786.91" stroke="#1a1a1a" stroke-width="2.1" stroke-linecap="butt"/>
<line x1="1344.20" y1="794.77" x2="1372.40" y2="794.77" stroke="#1a1a1a" stroke-width="2.1" stroke-linecap="butt"/>
<line x1="1344.20" y1="802.62" x2="1372.40" y2="802.62" stroke="#1a1a1a" stroke-width="2.1" stroke-linecap="butt"/>
<line x1="1344.20" y1="810.48" x2="1372.40" y2="810.48" stroke="#1a1a1a" stroke-width="2.1" stroke-linecap="butt"/>
<line x1="1344.20" y1="818.33" x2="1372.40" y2="818.33" stroke="#1a1a1a" stroke-width="2.1" stroke-linecap="butt"/>
<line x1="1344.20" y1="826.19" x2="1372.40" y2="826.19" stroke="#1a1a1a" stroke-width="2.1" stroke-linecap="butt"/>
<line x1="1344.20" y1="834.04" x2="1372.40" y2="834.04" stroke="#1a1a1a" stroke-width="2.1" stroke-linecap="butt"/>
<line x1="1344.20" y1="841.90" x2="1372.40" y2="841.90" stroke="#1a1a1a" stroke-width="2.1" stroke-linecap="butt"/>
<line x1="1344.20" y1="849.75" x2="1372.40" y2="849.75" stroke="#1a1a1a" stroke-width="2.1" stroke-linecap="butt"/>
<line x1="1344.20" y1="857.61" x2="1372.40" y2="857.61" stroke="#1a1a1a" stroke-width="2.1" stroke-linecap="butt"/>
<line x1="1344.20" y1="865.46" x2="1372.40" y2="865.46" stroke="#1a1a1a" stroke-width="2.1" stroke-linecap="butt"/>
<line x1="1344.20" y1="873.32" x2="1372.40" y2="873.32" stroke="#1a1a1a" stroke-width="2.1" stroke-linecap="butt"/>
<line x1="1344.20" y1="881.17" x2="1372.40" y2="881.17" stroke="#1a1a1a" stroke-width="2.1" stroke-linecap="butt"/>
<line x1="1344.20" y1="889.03" x2="1372.40" y2="889.03" stroke="#1a1a1a" stroke-width="2.1" stroke-linecap="butt"/>
<line x1="1344.20" y1="896.88" x2="1372.40" y2="896.88" stroke="#1a1a1a" stroke-width="2.1" stroke-linecap="butt"/>
<line x1="1344.20" y1="904.74" x2="1372.40" y2="904.74" stroke="#1a1a1a" stroke-width="2.1" stroke-linecap="butt"/>
<line x1="1344.20" y1="912.59" x2="1372.40" y2="912.59" stroke="#1a1a1a" stroke-width="2.1" stroke-linecap="butt"/>
<line x1="1344.20" y1="920.45" x2="1372.40" y2="920.45" stroke="#1a1a1a" stroke-width="2.1" stroke-linecap="butt"/>
<line x1="1344.20" y1="928.30" x2="1372.40" y2="928.30" stroke="#1a1a1a" stroke-width="2.1" stroke-linecap="butt"/>
<line x1="1344.20" y1="936.16" x2="1372.40" y2="936.16" stroke="#1a1a1a" stroke-width="2.1" stroke-linecap="butt"/>
<line x1="1344.20" y1="944.01" x2="1372.40" y2="944.01" stroke="#1a1a1a" stroke-width="2.1" stroke-linecap="butt"/>
<line x1="1344.20" y1="951.87" x2="1372.40" y2="951.87" stroke="#1a1a1a" stroke-width="2.1" stroke-linecap="butt"/>
<line x1="1344.20" y1="959.72" x2="1372.40" y2="959.72" stroke="#1a1a1a" stroke-width="2.1" stroke-linecap="butt"/>
<line x1="1344.20" y1="967.58" x2="1372.40" y2="967.58" stroke="#1a1a1a" stroke-width="2.1" stroke-linecap="butt"/>
<line x1="1344.20" y1="975.43" x2="1372.40" y2="975.43" stroke="#1a1a1a" stroke-width="2.1" stroke-linecap="butt"/>
<line x1="1344.20" y1="983.29" x2="1372.40" y2="983.29" stroke="#1a1a1a" stroke-width="2.1" stroke-linecap="butt"/>
<line x1="1344.20" y1="991.14" x2="1372.40" y2="991.14" stroke="#1a1a1a" stroke-width="2.1" stroke-linecap="butt"/>
<line x1="1344.20" y1="999.00" x2="1372.40" y2="999.00" stroke="#1a1a1a" stroke-width="2.1" stroke-linecap="butt"/>
<line x1="1358.30" y1="763.50" x2="1358.30" y2="744.70" stroke="#000" stroke-width="3.0" stroke-linecap="butt"/>
<line x1="1350.70" y1="744.70" x2="1365.90" y2="744.70" stroke="#000" stroke-width="3.2" stroke-linecap="round"/>
<line x1="894.70" y1="625.80" x2="894.70" y2="1003.40" stroke="#000" stroke-width="3.2" stroke-linecap="butt"/>
<line x1="885.10" y1="1003.40" x2="1400.00" y2="1003.40" stroke="#000" stroke-width="3.2" stroke-linecap="round"/>
<line x1="883.90" y1="625.80" x2="894.70" y2="625.80" stroke="#000" stroke-width="3.2" stroke-linecap="round"/>
<line x1="883.90" y1="751.67" x2="894.70" y2="751.67" stroke="#000" stroke-width="3.2" stroke-linecap="round"/>
<line x1="883.90" y1="877.53" x2="894.70" y2="877.53" stroke="#000" stroke-width="3.2" stroke-linecap="round"/>
<line x1="883.90" y1="1003.40" x2="894.70" y2="1003.40" stroke="#000" stroke-width="3.2" stroke-linecap="round"/>
<line x1="957.60" y1="1003.40" x2="957.60" y2="1014.70" stroke="#000" stroke-width="3.2" stroke-linecap="round"/>
<line x1="1083.30" y1="1003.40" x2="1083.30" y2="1014.70" stroke="#000" stroke-width="3.2" stroke-linecap="round"/>
<line x1="1209.00" y1="1003.40" x2="1209.00" y2="1014.70" stroke="#000" stroke-width="3.2" stroke-linecap="round"/>
<line x1="1334.70" y1="1003.40" x2="1334.70" y2="1014.70" stroke="#000" stroke-width="3.2" stroke-linecap="round"/>
<g transform="translate(1231.90,812.70)" fill="#000"><path d="M0,-5.00V5.00M-3.90,-2.30L3.90,2.30M-3.90,2.30L3.90,-2.30" stroke="#444" stroke-width="0.90" fill="none"/><ellipse cx="0" cy="-5.90" rx="1.60" ry="2.05"/><ellipse cx="0" cy="5.90" rx="1.60" ry="2.05"/><ellipse transform="translate(-3.95,-2.55) rotate(30)" rx="2.60" ry="1.50"/><ellipse transform="translate(-3.95,2.55) rotate(-30)" rx="2.60" ry="1.50"/><ellipse transform="translate(3.95,-2.55) rotate(-30)" rx="2.60" ry="1.50"/><ellipse transform="translate(3.95,2.55) rotate(30)" rx="2.60" ry="1.50"/></g>
<g transform="translate(1351.80,728.30)" fill="#000"><path d="M0,-5.00V5.00M-3.90,-2.30L3.90,2.30M-3.90,2.30L3.90,-2.30" stroke="#444" stroke-width="0.90" fill="none"/><ellipse cx="0" cy="-5.90" rx="1.60" ry="2.05"/><ellipse cx="0" cy="5.90" rx="1.60" ry="2.05"/><ellipse transform="translate(-3.95,-2.55) rotate(30)" rx="2.60" ry="1.50"/><ellipse transform="translate(-3.95,2.55) rotate(-30)" rx="2.60" ry="1.50"/><ellipse transform="translate(3.95,-2.55) rotate(-30)" rx="2.60" ry="1.50"/><ellipse transform="translate(3.95,2.55) rotate(30)" rx="2.60" ry="1.50"/></g>
<g transform="translate(1367.00,728.30)" fill="#000"><path d="M0,-5.00V5.00M-3.90,-2.30L3.90,2.30M-3.90,2.30L3.90,-2.30" stroke="#444" stroke-width="0.90" fill="none"/><ellipse cx="0" cy="-5.90" rx="1.60" ry="2.05"/><ellipse cx="0" cy="5.90" rx="1.60" ry="2.05"/><ellipse transform="translate(-3.95,-2.55) rotate(30)" rx="2.60" ry="1.50"/><ellipse transform="translate(-3.95,2.55) rotate(-30)" rx="2.60" ry="1.50"/><ellipse transform="translate(3.95,-2.55) rotate(-30)" rx="2.60" ry="1.50"/><ellipse transform="translate(3.95,2.55) rotate(30)" rx="2.60" ry="1.50"/></g>
<rect x="966.80" y="590.80" width="35.5" height="21.5" rx="1.5" fill="#fff" stroke="#000" stroke-width="3.2"/>
<rect x="1234.10" y="595.00" width="36.0" height="21.5" rx="1.5" fill="#fff" stroke="#000" stroke-width="3.2"/>
<line x1="1235.60" y1="602.50" x2="1268.60" y2="602.50" stroke="#1a1a1a" stroke-width="2.1" stroke-linecap="butt"/>
<line x1="1235.60" y1="610.20" x2="1268.60" y2="610.20" stroke="#1a1a1a" stroke-width="2.1" stroke-linecap="butt"/>
<text transform="translate(66.21,58.60) scale(0.8000,1)" font-family="Liberation Serif" font-weight="normal" font-size="38.0">150</text>
<text transform="translate(66.21,184.47) scale(0.8000,1)" font-family="Liberation Serif" font-weight="normal" font-size="38.0">100</text>
<text transform="translate(81.41,310.33) scale(0.8000,1)" font-family="Liberation Serif" font-weight="normal" font-size="38.0">50</text>
<text transform="translate(96.61,436.20) scale(0.8000,1)" font-family="Liberation Serif" font-weight="normal" font-size="38.0">0</text>
<text transform="translate(170.89,467.50) scale(0.8300,1)" font-family="Liberation Serif" font-weight="normal" font-size="36.5">1d</text>
<text transform="translate(297.65,467.50) scale(0.8300,1)" font-family="Liberation Serif" font-weight="normal" font-size="36.5">4d</text>
<text transform="translate(422.50,467.50) scale(0.8300,1)" font-family="Liberation Serif" font-weight="normal" font-size="36.5">7d</text>
<text transform="translate(540.42,467.50) scale(0.8300,1)" font-family="Liberation Serif" font-weight="normal" font-size="36.5">14d</text>
<text transform="translate(124.21,24.30) scale(0.9853,1)" font-family="Liberation Sans" font-weight="bold" font-size="30.0">A</text>
<text transform="translate(250.56,31.10) scale(0.8472,1)" font-family="Liberation Serif" font-weight="normal" font-size="33.5">Control group</text>
<text transform="translate(517.78,34.30) scale(0.8345,1)" font-family="Liberation Serif" font-weight="normal" font-size="33.5">Cold group</text>
<text transform="translate(24.60,386.91) rotate(-90) scale(1.0177,1)" font-family="Liberation Serif" font-weight="normal" font-size="34.5">Superoxide dismutase</text>
<text transform="translate(62.50,326.90) rotate(-90) scale(0.9673,1)" font-family="Liberation Serif" font-weight="normal" font-size="34.5">activity (U/ml)</text>
<text transform="translate(845.22,58.60) scale(0.8300,1)" font-family="Liberation Serif" font-weight="normal" font-size="38.0">1.0</text>
<text transform="translate(845.22,134.04) scale(0.8300,1)" font-family="Liberation Serif" font-weight="normal" font-size="38.0">0.8</text>
<text transform="translate(845.22,209.48) scale(0.8300,1)" font-family="Liberation Serif" font-weight="normal" font-size="38.0">0.6</text>
<text transform="translate(844.59,284.92) scale(0.8300,1)" font-family="Liberation Serif" font-weight="normal" font-size="38.0">0.4</text>
<text transform="translate(845.85,360.36) scale(0.8300,1)" font-family="Liberation Serif" font-weight="normal" font-size="38.0">0.2</text>
<text transform="translate(845.22,435.80) scale(0.8300,1)" font-family="Liberation Serif" font-weight="normal" font-size="38.0">0.0</text>
<text transform="translate(943.89,467.10) scale(0.8300,1)" font-family="Liberation Serif" font-weight="normal" font-size="36.5">1d</text>
<text transform="translate(1070.55,467.10) scale(0.8300,1)" font-family="Liberation Serif" font-weight="normal" font-size="36.5">4d</text>
<text transform="translate(1195.40,467.10) scale(0.8300,1)" font-family="Liberation Serif" font-weight="normal" font-size="36.5">7d</text>
<text transform="translate(1313.32,467.10) scale(0.8300,1)" font-family="Liberation Serif" font-weight="normal" font-size="36.5">14d</text>
<text transform="translate(898.78,23.90) scale(0.9570,1)" font-family="Liberation Sans" font-weight="bold" font-size="30.0">B</text>
<text transform="translate(1023.76,31.10) scale(0.8472,1)" font-family="Liberation Serif" font-weight="normal" font-size="33.5">Control group</text>
<text transform="translate(1290.78,34.30) scale(0.8345,1)" font-family="Liberation Serif" font-weight="normal" font-size="33.5">Cold group</text>
<text transform="translate(792.40,344.35) rotate(-90) scale(0.9794,1)" font-family="Liberation Serif" font-weight="normal" font-size="34.5">Catalase activity</text>
<text transform="translate(830.20,276.63) rotate(-90) scale(0.9673,1)" font-family="Liberation Serif" font-weight="normal" font-size="34.5">(U/ml)</text>
<text transform="translate(66.11,638.10) scale(0.8000,1)" font-family="Liberation Serif" font-weight="normal" font-size="38.0">100</text>
<text transform="translate(81.31,713.66) scale(0.8000,1)" font-family="Liberation Serif" font-weight="normal" font-size="38.0">80</text>
<text transform="translate(81.31,789.22) scale(0.8000,1)" font-family="Liberation Serif" font-weight="normal" font-size="38.0">60</text>
<text transform="translate(81.31,864.78) scale(0.8000,1)" font-family="Liberation Serif" font-weight="normal" font-size="38.0">40</text>
<text transform="translate(81.31,940.34) scale(0.8000,1)" font-family="Liberation Serif" font-weight="normal" font-size="38.0">20</text>
<text transform="translate(96.51,1015.90) scale(0.8000,1)" font-family="Liberation Serif" font-weight="normal" font-size="38.0">0</text>
<text transform="translate(170.39,1047.00) scale(0.8300,1)" font-family="Liberation Serif" font-weight="normal" font-size="36.5">1d</text>
<text transform="translate(297.15,1047.00) scale(0.8300,1)" font-family="Liberation Serif" font-weight="normal" font-size="36.5">4d</text>
<text transform="translate(422.10,1047.00) scale(0.8300,1)" font-family="Liberation Serif" font-weight="normal" font-size="36.5">7d</text>
<text transform="translate(539.92,1047.00) scale(0.8300,1)" font-family="Liberation Serif" font-weight="normal" font-size="36.5">14d</text>
<text transform="translate(125.33,604.30) scale(0.9913,1)" font-family="Liberation Sans" font-weight="bold" font-size="29.5">C</text>
<text transform="translate(249.96,611.80) scale(0.8542,1)" font-family="Liberation Serif" font-weight="normal" font-size="33.5">Control group</text>
<text transform="translate(517.37,615.00) scale(0.8405,1)" font-family="Liberation Serif" font-weight="normal" font-size="33.5">Cold group</text>
<text transform="translate(24.50,972.58) rotate(-90) scale(1.0027,1)" font-family="Liberation Serif" font-weight="normal" font-size="34.5">Glutathione peroxidase</text>
<text transform="translate(63.20,910.40) rotate(-90) scale(0.9629,1)" font-family="Liberation Serif" font-weight="normal" font-size="34.5">activity (U/ml)</text>
<text transform="translate(852.82,638.30) scale(0.8000,1)" font-family="Liberation Serif" font-weight="normal" font-size="38.0">15</text>
<text transform="translate(852.51,764.17) scale(0.8000,1)" font-family="Liberation Serif" font-weight="normal" font-size="38.0">10</text>
<text transform="translate(868.02,890.03) scale(0.8000,1)" font-family="Liberation Serif" font-weight="normal" font-size="38.0">5</text>
<text transform="translate(867.71,1015.90) scale(0.8000,1)" font-family="Liberation Serif" font-weight="normal" font-size="38.0">0</text>
<text transform="translate(942.19,1047.00) scale(0.8300,1)" font-family="Liberation Serif" font-weight="normal" font-size="36.5">1d</text>
<text transform="translate(1068.95,1047.00) scale(0.8300,1)" font-family="Liberation Serif" font-weight="normal" font-size="36.5">4d</text>
<text transform="translate(1193.90,1047.00) scale(0.8300,1)" font-family="Liberation Serif" font-weight="normal" font-size="36.5">7d</text>
<text transform="translate(1311.72,1047.00) scale(0.8300,1)" font-family="Liberation Serif" font-weight="normal" font-size="36.5">14d</text>
<text transform="translate(899.00,604.30) scale(1.0000,1)" font-family="Liberation Sans" font-weight="bold" font-size="30.0">D</text>
<text transform="translate(1021.46,611.80) scale(0.8542,1)" font-family="Liberation Serif" font-weight="normal" font-size="33.5">Control group</text>
<text transform="translate(1288.87,615.00) scale(0.8405,1)" font-family="Liberation Serif" font-weight="normal" font-size="33.5">Cold group</text>
<text transform="translate(792.50,985.58) rotate(-90) scale(0.9884,1)" font-family="Liberation Serif" font-weight="normal" font-size="34.5">Malondialdehyde content</text>
<text transform="translate(830.50,878.83) rotate(-90) scale(0.9635,1)" font-family="Liberation Serif" font-weight="normal" font-size="34.5">(nmol/ml)</text>
</svg>
</body></html>
